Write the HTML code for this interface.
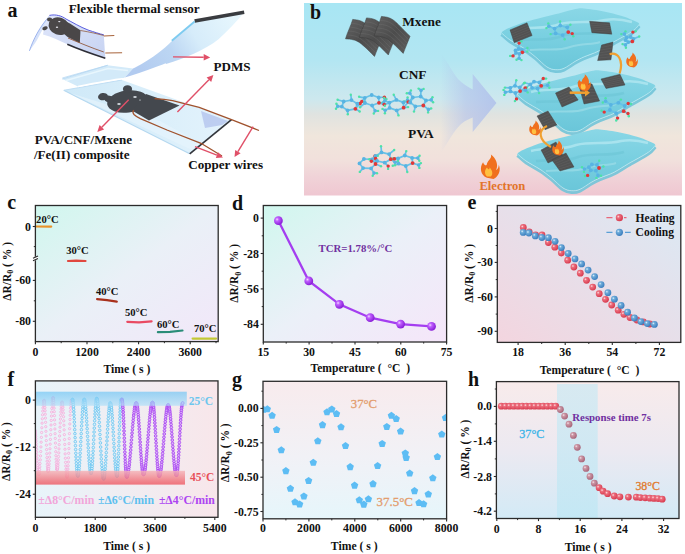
<!DOCTYPE html><html><head><meta charset="utf-8"><style>html,body{margin:0;padding:0;background:#fff;width:685px;height:554px;overflow:hidden}text{font-family:"Liberation Serif",serif}</style></head><body><svg width="685" height="554" viewBox="0 0 685 554" style="display:block;font-family:'Liberation Serif',serif"><defs><linearGradient id="gb" x1="0" y1="0" x2="0" y2="1"><stop offset="0" stop-color="#a8e6f4"/><stop offset="0.3" stop-color="#b3e6f2"/><stop offset="0.5" stop-color="#cde8ee"/><stop offset="0.58" stop-color="#e0e3e0"/><stop offset="0.69" stop-color="#f0e6dc"/><stop offset="0.82" stop-color="#f1e0dc"/><stop offset="0.9" stop-color="#f0d3d8"/><stop offset="1" stop-color="#efc7d1"/></linearGradient><linearGradient id="gc" x1="0" y1="0" x2="1" y2="1"><stop offset="0" stop-color="#d0f7ee"/><stop offset="0.5" stop-color="#eaf0f7"/><stop offset="1" stop-color="#f2e7f9"/></linearGradient><linearGradient id="gd" x1="0" y1="0" x2="1" y2="1"><stop offset="0" stop-color="#d0f7ee"/><stop offset="0.5" stop-color="#ebf0f8"/><stop offset="1" stop-color="#f5e6f9"/></linearGradient><linearGradient id="ge" x1="1" y1="0" x2="0" y2="1"><stop offset="0" stop-color="#dbe9f4"/><stop offset="1" stop-color="#f3d5df"/></linearGradient><linearGradient id="gf" x1="0" y1="0" x2="1" y2="0"><stop offset="0" stop-color="#e8f4fa"/><stop offset="1" stop-color="#f8e6ea"/></linearGradient><linearGradient id="gg" x1="0" y1="0" x2="0" y2="1"><stop offset="0" stop-color="#f8ebed"/><stop offset="0.55" stop-color="#f1f1f6"/><stop offset="1" stop-color="#e6f6fb"/></linearGradient><linearGradient id="gh" x1="0" y1="0" x2="0" y2="1"><stop offset="0" stop-color="#f8ebeb"/><stop offset="0.5" stop-color="#ece9f1"/><stop offset="1" stop-color="#d3eaf6"/></linearGradient><linearGradient id="bandb" x1="0" y1="0" x2="0" y2="1"><stop offset="0" stop-color="#70c5f4"/><stop offset="1" stop-color="#b2e0f8"/></linearGradient><linearGradient id="bandr" x1="0" y1="0" x2="0" y2="1"><stop offset="0" stop-color="#f5b3b8"/><stop offset="1" stop-color="#ee5862"/></linearGradient><linearGradient id="bandh" x1="0" y1="0" x2="0" y2="1"><stop offset="0" stop-color="#cde9f3"/><stop offset="1" stop-color="#bfe7f4"/></linearGradient><radialGradient id="sp_p" cx="0.35" cy="0.35" r="0.65"><stop offset="0" stop-color="#f4d8ff"/><stop offset="0.3" stop-color="#c060ff"/><stop offset="1" stop-color="#8a1fd8"/></radialGradient><radialGradient id="sp_r" cx="0.35" cy="0.35" r="0.65"><stop offset="0" stop-color="#fde0e3"/><stop offset="0.3" stop-color="#ec6e7d"/><stop offset="1" stop-color="#d83c50"/></radialGradient><radialGradient id="sp_b" cx="0.35" cy="0.35" r="0.65"><stop offset="0" stop-color="#e0f1fb"/><stop offset="0.3" stop-color="#6eacda"/><stop offset="1" stop-color="#3d80bf"/></radialGradient><radialGradient id="sp_m" cx="0.35" cy="0.35" r="0.65"><stop offset="0" stop-color="#f5e4ea"/><stop offset="0.3" stop-color="#cc96a4"/><stop offset="1" stop-color="#a9677b"/></radialGradient><polygon id="pent" points="0.00,-3.90 3.71,-1.21 2.29,3.16 -2.29,3.16 -3.71,-1.21"/><linearGradient id="arrowg" x1="0" y1="0" x2="1" y2="0"><stop offset="0" stop-color="rgba(175,190,235,0)"/><stop offset="0.45" stop-color="rgba(175,190,235,0.55)"/><stop offset="1" stop-color="rgba(175,192,235,0.85)"/></linearGradient><linearGradient id="mx" x1="0" y1="0" x2="1" y2="1"><stop offset="0" stop-color="#626262"/><stop offset="0.5" stop-color="#4c4c4c"/><stop offset="1" stop-color="#5e5e5e"/></linearGradient><linearGradient id="sheet" x1="0" y1="0" x2="0" y2="1"><stop offset="0" stop-color="#8ad7e6"/><stop offset="0.5" stop-color="#78cfe0"/><stop offset="1" stop-color="#6ac6d9"/></linearGradient><linearGradient id="pdms" x1="0" y1="0" x2="1" y2="1"><stop offset="0" stop-color="rgba(205,234,250,0.95)"/><stop offset="1" stop-color="rgba(190,222,246,0.95)"/></linearGradient><linearGradient id="strip" x1="0" y1="0" x2="1" y2="0"><stop offset="0" stop-color="#cfe9f8"/><stop offset="0.5" stop-color="#d9eefa"/><stop offset="1" stop-color="#e4f3fc"/></linearGradient><linearGradient id="flap" x1="0" y1="1" x2="1" y2="0"><stop offset="0" stop-color="#a9c6ee"/><stop offset="0.45" stop-color="#cfe6f8"/><stop offset="1" stop-color="#e2f5fd"/></linearGradient><linearGradient id="flex" x1="0" y1="0" x2="1" y2="1"><stop offset="0" stop-color="#dfe6fa"/><stop offset="1" stop-color="#c7d3f2"/></linearGradient><linearGradient id="flap2" x1="140" y1="72" x2="232" y2="14" gradientUnits="userSpaceOnUse"><stop offset="0" stop-color="#b2cbf0"/><stop offset="0.35" stop-color="#bcd6f3"/><stop offset="0.6" stop-color="#d6ecfa"/><stop offset="1" stop-color="#e6f6fd"/></linearGradient></defs><rect width="685" height="554" fill="#fff"/><rect x="35.4" y="205.5" width="182.79999999999998" height="136.10000000000002" fill="url(#gc)"/>
<polyline points="35.8,226.5 51.2,226.6" fill="none" stroke="#e8922a" stroke-width="2.2" stroke-linecap="round"/>
<text x="36.1" y="223.2" font-size="10.6" font-weight="bold" text-anchor="start" fill="#111" >20°C</text>
<polyline points="68,261.0 76,260.6 85.5,261.0" fill="none" stroke="#e0483f" stroke-width="2.2" stroke-linecap="round"/>
<text x="66.2" y="253.9" font-size="10.6" font-weight="bold" text-anchor="start" fill="#111" >30°C</text>
<polyline points="97.1,299.1 107,300.2 116.8,301.7" fill="none" stroke="#a8301c" stroke-width="2.2" stroke-linecap="round"/>
<text x="96.0" y="295.1" font-size="10.6" font-weight="bold" text-anchor="start" fill="#111" >40°C</text>
<polyline points="127.3,321.8 139,322.3 151.6,321.4" fill="none" stroke="#e94a62" stroke-width="2.2" stroke-linecap="round"/>
<text x="124.9" y="315.7" font-size="10.6" font-weight="bold" text-anchor="start" fill="#111" >50°C</text>
<polyline points="157.9,332.2 170,331.8 182.5,330.5" fill="none" stroke="#2a8c78" stroke-width="2.2" stroke-linecap="round"/>
<text x="156.9" y="328.4" font-size="10.6" font-weight="bold" text-anchor="start" fill="#111" >60°C</text>
<polyline points="192.6,338.6 216.1,338.6" fill="none" stroke="#c2c834" stroke-width="2.2" stroke-linecap="round"/>
<text x="194.0" y="332.0" font-size="10.6" font-weight="bold" text-anchor="start" fill="#111" >70°C</text>
<rect x="35.4" y="205.5" width="182.79999999999998" height="136.10000000000002" fill="none" stroke="#2b2b2b" stroke-width="1.3"/>
<line x1="35.4" y1="341.6" x2="35.4" y2="344.20000000000005" stroke="#2b2b2b" stroke-width="1.1"/>
<line x1="87.0" y1="341.6" x2="87.0" y2="344.20000000000005" stroke="#2b2b2b" stroke-width="1.1"/>
<line x1="138.6" y1="341.6" x2="138.6" y2="344.20000000000005" stroke="#2b2b2b" stroke-width="1.1"/>
<line x1="190.2" y1="341.6" x2="190.2" y2="344.20000000000005" stroke="#2b2b2b" stroke-width="1.1"/>
<line x1="61.2" y1="341.6" x2="61.2" y2="343.20000000000005" stroke="#2b2b2b" stroke-width="1.0"/>
<line x1="112.8" y1="341.6" x2="112.8" y2="343.20000000000005" stroke="#2b2b2b" stroke-width="1.0"/>
<line x1="164.4" y1="341.6" x2="164.4" y2="343.20000000000005" stroke="#2b2b2b" stroke-width="1.0"/>
<line x1="216.0" y1="341.6" x2="216.0" y2="343.20000000000005" stroke="#2b2b2b" stroke-width="1.0"/>
<text x="35.4" y="355.6" font-size="11.8" font-weight="bold" text-anchor="middle" fill="#111" >0</text>
<text x="87.0" y="355.6" font-size="11.8" font-weight="bold" text-anchor="middle" fill="#111" >1200</text>
<text x="138.6" y="355.6" font-size="11.8" font-weight="bold" text-anchor="middle" fill="#111" >2400</text>
<text x="190.2" y="355.6" font-size="11.8" font-weight="bold" text-anchor="middle" fill="#111" >3600</text>
<line x1="32.8" y1="226.5" x2="35.4" y2="226.5" stroke="#2b2b2b" stroke-width="1.1"/>
<line x1="32.8" y1="280.4" x2="35.4" y2="280.4" stroke="#2b2b2b" stroke-width="1.1"/>
<line x1="32.8" y1="321.3" x2="35.4" y2="321.3" stroke="#2b2b2b" stroke-width="1.1"/>
<line x1="33.8" y1="246.6" x2="35.4" y2="246.6" stroke="#2b2b2b" stroke-width="1.0"/>
<line x1="33.8" y1="300.8" x2="35.4" y2="300.8" stroke="#2b2b2b" stroke-width="1.0"/>
<text x="31.0" y="230.5" font-size="11.8" font-weight="bold" text-anchor="end" fill="#111" >0</text>
<text x="31.0" y="284.4" font-size="11.8" font-weight="bold" text-anchor="end" fill="#111" >-60</text>
<text x="31.0" y="325.3" font-size="11.8" font-weight="bold" text-anchor="end" fill="#111" >-80</text>
<rect x="32.5" y="257" width="6" height="3.2" fill="#fff" transform="rotate(-25 35.4 258.8)"/>
<path d="M33 258.2 L38 255.9 M33 260.8 L38 258.5" stroke="#2b2b2b" stroke-width="1.1"/>
<text transform="translate(6.6,271.4) rotate(-90)" x="0" y="3.9" font-size="11.5" font-weight="bold" text-anchor="middle" fill="#111">ΔR/R<tspan font-size="8.0" dy="2.5">0</tspan><tspan dy="-2.5"> ( % )</tspan></text>
<text x="126.9" y="373.4" font-size="11.7" font-weight="bold" text-anchor="middle" fill="#111" >Time ( s )</text>
<text x="7.2" y="208.6" font-size="20" font-weight="bold" text-anchor="start" fill="#111" >c</text>
<rect x="263.3" y="205.5" width="183.3" height="136.5" fill="url(#gd)"/>
<polyline points="278.4,220.7 308.8,280.9 339.4,304.3 370.2,317.7 400.6,324.1 431.5,326.4" fill="none" stroke="#a43ef0" stroke-width="2.3"/>
<circle cx="278.4" cy="220.7" r="4.4" fill="url(#sp_p)"/>
<circle cx="308.8" cy="280.9" r="4.4" fill="url(#sp_p)"/>
<circle cx="339.4" cy="304.3" r="4.4" fill="url(#sp_p)"/>
<circle cx="370.2" cy="317.7" r="4.4" fill="url(#sp_p)"/>
<circle cx="400.6" cy="324.1" r="4.4" fill="url(#sp_p)"/>
<circle cx="431.5" cy="326.4" r="4.4" fill="url(#sp_p)"/>
<text x="318.5" y="252.1" font-size="10.8" font-weight="bold" text-anchor="start" fill="#7030a0" >TCR=1.78%/°C</text>
<rect x="263.3" y="205.5" width="183.3" height="136.5" fill="none" stroke="#2b2b2b" stroke-width="1.3"/>
<line x1="263.3" y1="342.0" x2="263.3" y2="344.6" stroke="#2b2b2b" stroke-width="1.1"/>
<line x1="309.1" y1="342.0" x2="309.1" y2="344.6" stroke="#2b2b2b" stroke-width="1.1"/>
<line x1="355.0" y1="342.0" x2="355.0" y2="344.6" stroke="#2b2b2b" stroke-width="1.1"/>
<line x1="400.8" y1="342.0" x2="400.8" y2="344.6" stroke="#2b2b2b" stroke-width="1.1"/>
<line x1="446.6" y1="342.0" x2="446.6" y2="344.6" stroke="#2b2b2b" stroke-width="1.1"/>
<line x1="286.2" y1="342.0" x2="286.2" y2="343.6" stroke="#2b2b2b" stroke-width="1.0"/>
<line x1="332.0" y1="342.0" x2="332.0" y2="343.6" stroke="#2b2b2b" stroke-width="1.0"/>
<line x1="377.9" y1="342.0" x2="377.9" y2="343.6" stroke="#2b2b2b" stroke-width="1.0"/>
<line x1="423.7" y1="342.0" x2="423.7" y2="343.6" stroke="#2b2b2b" stroke-width="1.0"/>
<text x="263.3" y="356.0" font-size="11.8" font-weight="bold" text-anchor="middle" fill="#111" >15</text>
<text x="309.1" y="356.0" font-size="11.8" font-weight="bold" text-anchor="middle" fill="#111" >30</text>
<text x="355.0" y="356.0" font-size="11.8" font-weight="bold" text-anchor="middle" fill="#111" >45</text>
<text x="400.8" y="356.0" font-size="11.8" font-weight="bold" text-anchor="middle" fill="#111" >60</text>
<text x="446.6" y="356.0" font-size="11.8" font-weight="bold" text-anchor="middle" fill="#111" >75</text>
<line x1="260.7" y1="218.1" x2="263.3" y2="218.1" stroke="#2b2b2b" stroke-width="1.1"/>
<line x1="260.7" y1="253.5" x2="263.3" y2="253.5" stroke="#2b2b2b" stroke-width="1.1"/>
<line x1="260.7" y1="288.9" x2="263.3" y2="288.9" stroke="#2b2b2b" stroke-width="1.1"/>
<line x1="260.7" y1="324.3" x2="263.3" y2="324.3" stroke="#2b2b2b" stroke-width="1.1"/>
<line x1="261.7" y1="235.8" x2="263.3" y2="235.8" stroke="#2b2b2b" stroke-width="1.0"/>
<line x1="261.7" y1="271.2" x2="263.3" y2="271.2" stroke="#2b2b2b" stroke-width="1.0"/>
<line x1="261.7" y1="306.6" x2="263.3" y2="306.6" stroke="#2b2b2b" stroke-width="1.0"/>
<text x="258.9" y="222.1" font-size="11.8" font-weight="bold" text-anchor="end" fill="#111" >0</text>
<text x="258.9" y="257.5" font-size="11.8" font-weight="bold" text-anchor="end" fill="#111" >-28</text>
<text x="258.9" y="292.9" font-size="11.8" font-weight="bold" text-anchor="end" fill="#111" >-56</text>
<text x="258.9" y="328.3" font-size="11.8" font-weight="bold" text-anchor="end" fill="#111" >-84</text>
<text transform="translate(234.3,273.4) rotate(-90)" x="0" y="3.9" font-size="11.5" font-weight="bold" text-anchor="middle" fill="#111">ΔR/R<tspan font-size="8.0" dy="2.5">0</tspan><tspan dy="-2.5"> ( % )</tspan></text>
<text x="360.3" y="371.9" font-size="11.6" font-weight="bold" text-anchor="middle" fill="#111" >Temperature (  °C  )</text>
<text x="232.0" y="210.2" font-size="20" font-weight="bold" text-anchor="start" fill="#111" >d</text>
<rect x="497.3" y="205.5" width="183.49999999999994" height="136.89999999999998" fill="url(#ge)"/>
<circle cx="523.3" cy="227.5" r="3.4" fill="url(#sp_r)"/>
<circle cx="529.2" cy="232.0" r="3.4" fill="url(#sp_r)"/>
<circle cx="535.6" cy="234.8" r="3.4" fill="url(#sp_r)"/>
<circle cx="542" cy="235.0" r="3.4" fill="url(#sp_r)"/>
<circle cx="548.4" cy="242.5" r="3.4" fill="url(#sp_r)"/>
<circle cx="554.8" cy="247.2" r="3.4" fill="url(#sp_r)"/>
<circle cx="561.3" cy="253.0" r="3.4" fill="url(#sp_r)"/>
<circle cx="567.7" cy="260.2" r="3.4" fill="url(#sp_r)"/>
<circle cx="573.9" cy="267" r="3.4" fill="url(#sp_r)"/>
<circle cx="580.3" cy="273.2" r="3.4" fill="url(#sp_r)"/>
<circle cx="586.5" cy="280.3" r="3.4" fill="url(#sp_r)"/>
<circle cx="592.7" cy="287.1" r="3.4" fill="url(#sp_r)"/>
<circle cx="599.2" cy="293.7" r="3.4" fill="url(#sp_r)"/>
<circle cx="605.5" cy="299.3" r="3.4" fill="url(#sp_r)"/>
<circle cx="611.7" cy="305" r="3.4" fill="url(#sp_r)"/>
<circle cx="618.2" cy="310.2" r="3.4" fill="url(#sp_r)"/>
<circle cx="623.9" cy="314.3" r="3.4" fill="url(#sp_r)"/>
<circle cx="630" cy="317.5" r="3.4" fill="url(#sp_r)"/>
<circle cx="636.9" cy="320" r="3.4" fill="url(#sp_r)"/>
<circle cx="643.4" cy="321.9" r="3.4" fill="url(#sp_r)"/>
<circle cx="649.8" cy="324" r="3.4" fill="url(#sp_r)"/>
<circle cx="523.2" cy="232.4" r="3.4" fill="url(#sp_b)"/>
<circle cx="528.9" cy="233" r="3.4" fill="url(#sp_b)"/>
<circle cx="535.3" cy="235.9" r="3.4" fill="url(#sp_b)"/>
<circle cx="541.9" cy="237.5" r="3.4" fill="url(#sp_b)"/>
<circle cx="548.4" cy="237.7" r="3.4" fill="url(#sp_b)"/>
<circle cx="555.1" cy="241.3" r="3.4" fill="url(#sp_b)"/>
<circle cx="561.4" cy="247.6" r="3.4" fill="url(#sp_b)"/>
<circle cx="568.2" cy="253.5" r="3.4" fill="url(#sp_b)"/>
<circle cx="575" cy="258.9" r="3.4" fill="url(#sp_b)"/>
<circle cx="581.6" cy="263.9" r="3.4" fill="url(#sp_b)"/>
<circle cx="588.1" cy="270.1" r="3.4" fill="url(#sp_b)"/>
<circle cx="594.6" cy="276.6" r="3.4" fill="url(#sp_b)"/>
<circle cx="601.1" cy="284.6" r="3.4" fill="url(#sp_b)"/>
<circle cx="607.9" cy="292.7" r="3.4" fill="url(#sp_b)"/>
<circle cx="614.4" cy="299.2" r="3.4" fill="url(#sp_b)"/>
<circle cx="621.1" cy="305.4" r="3.4" fill="url(#sp_b)"/>
<circle cx="627.6" cy="312.2" r="3.4" fill="url(#sp_b)"/>
<circle cx="634.4" cy="318" r="3.4" fill="url(#sp_b)"/>
<circle cx="640.9" cy="321.6" r="3.4" fill="url(#sp_b)"/>
<circle cx="647.4" cy="323.6" r="3.4" fill="url(#sp_b)"/>
<circle cx="654.4" cy="324.4" r="3.4" fill="url(#sp_b)"/>
<path d="M606.4 217.7 H612.5 M624 217.7 H626.5" stroke="#e8677a" stroke-width="1.2"/>
<circle cx="619.4" cy="217.7" r="3.6" fill="url(#sp_r)"/>
<path d="M606.4 232.3 H612.5 M625 232.3 H630.7" stroke="#5a9fd6" stroke-width="1.2"/>
<circle cx="619.4" cy="232.3" r="3.6" fill="url(#sp_b)"/>
<text x="635.6" y="221.7" font-size="11.5" font-weight="bold" text-anchor="start" fill="#111" >Heating</text>
<text x="635.6" y="236.4" font-size="11.5" font-weight="bold" text-anchor="start" fill="#111" >Cooling</text>
<rect x="497.3" y="205.5" width="183.49999999999994" height="136.89999999999998" fill="none" stroke="#2b2b2b" stroke-width="1.3"/>
<line x1="518.1" y1="342.4" x2="518.1" y2="345.0" stroke="#2b2b2b" stroke-width="1.1"/>
<line x1="565.2" y1="342.4" x2="565.2" y2="345.0" stroke="#2b2b2b" stroke-width="1.1"/>
<line x1="612.3" y1="342.4" x2="612.3" y2="345.0" stroke="#2b2b2b" stroke-width="1.1"/>
<line x1="659.4" y1="342.4" x2="659.4" y2="345.0" stroke="#2b2b2b" stroke-width="1.1"/>
<line x1="541.7" y1="342.4" x2="541.7" y2="344.0" stroke="#2b2b2b" stroke-width="1.0"/>
<line x1="588.8" y1="342.4" x2="588.8" y2="344.0" stroke="#2b2b2b" stroke-width="1.0"/>
<line x1="635.9" y1="342.4" x2="635.9" y2="344.0" stroke="#2b2b2b" stroke-width="1.0"/>
<text x="518.1" y="356.2" font-size="11.8" font-weight="bold" text-anchor="middle" fill="#111" >18</text>
<text x="565.2" y="356.2" font-size="11.8" font-weight="bold" text-anchor="middle" fill="#111" >36</text>
<text x="612.3" y="356.2" font-size="11.8" font-weight="bold" text-anchor="middle" fill="#111" >54</text>
<text x="659.4" y="356.2" font-size="11.8" font-weight="bold" text-anchor="middle" fill="#111" >72</text>
<line x1="494.7" y1="228.5" x2="497.3" y2="228.5" stroke="#2b2b2b" stroke-width="1.1"/>
<line x1="494.7" y1="262.4" x2="497.3" y2="262.4" stroke="#2b2b2b" stroke-width="1.1"/>
<line x1="494.7" y1="296.9" x2="497.3" y2="296.9" stroke="#2b2b2b" stroke-width="1.1"/>
<line x1="494.7" y1="331.3" x2="497.3" y2="331.3" stroke="#2b2b2b" stroke-width="1.1"/>
<line x1="495.7" y1="211.4" x2="497.3" y2="211.4" stroke="#2b2b2b" stroke-width="1.0"/>
<line x1="495.7" y1="245.5" x2="497.3" y2="245.5" stroke="#2b2b2b" stroke-width="1.0"/>
<line x1="495.7" y1="279.6" x2="497.3" y2="279.6" stroke="#2b2b2b" stroke-width="1.0"/>
<line x1="495.7" y1="314.1" x2="497.3" y2="314.1" stroke="#2b2b2b" stroke-width="1.0"/>
<text x="492.9" y="232.5" font-size="11.8" font-weight="bold" text-anchor="end" fill="#111" >0</text>
<text x="492.9" y="266.4" font-size="11.8" font-weight="bold" text-anchor="end" fill="#111" >-30</text>
<text x="492.9" y="300.9" font-size="11.8" font-weight="bold" text-anchor="end" fill="#111" >-60</text>
<text x="492.9" y="335.3" font-size="11.8" font-weight="bold" text-anchor="end" fill="#111" >-90</text>
<text transform="translate(468.8,273.4) rotate(-90)" x="0" y="3.9" font-size="11.5" font-weight="bold" text-anchor="middle" fill="#111">ΔR/R<tspan font-size="8.0" dy="2.5">0</tspan><tspan dy="-2.5"> ( % )</tspan></text>
<text x="589.5" y="374.2" font-size="11.6" font-weight="bold" text-anchor="middle" fill="#111" >Temperature (  °C  )</text>
<text x="467.5" y="209.0" font-size="20" font-weight="bold" text-anchor="start" fill="#111" >e</text>
<rect x="35.4" y="380.9" width="182.6" height="136.39999999999998" fill="url(#gf)"/>
<clipPath id="cf"><rect x="35.4" y="380.9" width="182.6" height="136.39999999999998"/></clipPath>
<g clip-path="url(#cf)" fill="#fbe6f4" stroke="#f0a2d6" stroke-width="0.65">
<circle cx="34.60" cy="430.00" r="1.15"/>
<circle cx="34.77" cy="430.19" r="1.15"/>
<circle cx="34.94" cy="430.76" r="1.15"/>
<circle cx="35.11" cy="431.69" r="1.15"/>
<circle cx="35.28" cy="432.97" r="1.15"/>
<circle cx="35.45" cy="434.59" r="1.15"/>
<circle cx="35.62" cy="436.50" r="1.15"/>
<circle cx="35.80" cy="438.69" r="1.15"/>
<circle cx="35.97" cy="441.10" r="1.15"/>
<circle cx="36.14" cy="443.70" r="1.15"/>
<circle cx="36.31" cy="446.45" r="1.15"/>
<circle cx="36.48" cy="449.30" r="1.15"/>
<circle cx="36.65" cy="452.20" r="1.15"/>
<circle cx="36.82" cy="455.10" r="1.15"/>
<circle cx="36.99" cy="457.95" r="1.15"/>
<circle cx="37.16" cy="460.70" r="1.15"/>
<circle cx="37.33" cy="463.30" r="1.15"/>
<circle cx="37.50" cy="465.71" r="1.15"/>
<circle cx="37.68" cy="467.90" r="1.15"/>
<circle cx="37.85" cy="469.81" r="1.15"/>
<circle cx="38.02" cy="471.43" r="1.15"/>
<circle cx="38.19" cy="472.71" r="1.15"/>
<circle cx="38.36" cy="473.64" r="1.15"/>
<circle cx="38.53" cy="474.21" r="1.15"/>
<circle cx="38.70" cy="474.40" r="1.15"/>
<circle cx="38.93" cy="474.08" r="1.15"/>
<circle cx="39.15" cy="473.14" r="1.15"/>
<circle cx="39.38" cy="471.58" r="1.15"/>
<circle cx="39.60" cy="469.44" r="1.15"/>
<circle cx="39.83" cy="466.74" r="1.15"/>
<circle cx="40.05" cy="463.55" r="1.15"/>
<circle cx="40.28" cy="459.90" r="1.15"/>
<circle cx="40.50" cy="455.88" r="1.15"/>
<circle cx="40.73" cy="451.53" r="1.15"/>
<circle cx="40.95" cy="446.94" r="1.15"/>
<circle cx="41.18" cy="442.19" r="1.15"/>
<circle cx="41.40" cy="437.35" r="1.15"/>
<circle cx="41.62" cy="432.51" r="1.15"/>
<circle cx="41.85" cy="427.76" r="1.15"/>
<circle cx="42.08" cy="423.17" r="1.15"/>
<circle cx="42.30" cy="418.82" r="1.15"/>
<circle cx="42.53" cy="414.80" r="1.15"/>
<circle cx="42.75" cy="411.15" r="1.15"/>
<circle cx="42.98" cy="407.96" r="1.15"/>
<circle cx="43.20" cy="405.26" r="1.15"/>
<circle cx="43.43" cy="403.12" r="1.15"/>
<circle cx="43.65" cy="401.56" r="1.15"/>
<circle cx="43.88" cy="400.62" r="1.15"/>
<circle cx="44.10" cy="400.30" r="1.15"/>
<circle cx="44.27" cy="400.60" r="1.15"/>
<circle cx="44.43" cy="401.51" r="1.15"/>
<circle cx="44.60" cy="403.01" r="1.15"/>
<circle cx="44.77" cy="405.08" r="1.15"/>
<circle cx="44.93" cy="407.67" r="1.15"/>
<circle cx="45.10" cy="410.74" r="1.15"/>
<circle cx="45.27" cy="414.25" r="1.15"/>
<circle cx="45.43" cy="418.12" r="1.15"/>
<circle cx="45.60" cy="422.31" r="1.15"/>
<circle cx="45.77" cy="426.72" r="1.15"/>
<circle cx="45.93" cy="431.30" r="1.15"/>
<circle cx="46.10" cy="435.95" r="1.15"/>
<circle cx="46.27" cy="440.60" r="1.15"/>
<circle cx="46.43" cy="445.18" r="1.15"/>
<circle cx="46.60" cy="449.59" r="1.15"/>
<circle cx="46.77" cy="453.78" r="1.15"/>
<circle cx="46.93" cy="457.65" r="1.15"/>
<circle cx="47.10" cy="461.16" r="1.15"/>
<circle cx="47.27" cy="464.23" r="1.15"/>
<circle cx="47.43" cy="466.82" r="1.15"/>
<circle cx="47.60" cy="468.89" r="1.15"/>
<circle cx="47.77" cy="470.39" r="1.15"/>
<circle cx="47.93" cy="471.30" r="1.15"/>
<circle cx="48.10" cy="471.60" r="1.15"/>
<circle cx="48.31" cy="471.28" r="1.15"/>
<circle cx="48.52" cy="470.34" r="1.15"/>
<circle cx="48.73" cy="468.78" r="1.15"/>
<circle cx="48.93" cy="466.64" r="1.15"/>
<circle cx="49.14" cy="463.95" r="1.15"/>
<circle cx="49.35" cy="460.76" r="1.15"/>
<circle cx="49.56" cy="457.12" r="1.15"/>
<circle cx="49.77" cy="453.10" r="1.15"/>
<circle cx="49.98" cy="448.76" r="1.15"/>
<circle cx="50.18" cy="444.18" r="1.15"/>
<circle cx="50.39" cy="439.43" r="1.15"/>
<circle cx="50.60" cy="434.60" r="1.15"/>
<circle cx="50.81" cy="429.77" r="1.15"/>
<circle cx="51.02" cy="425.02" r="1.15"/>
<circle cx="51.23" cy="420.44" r="1.15"/>
<circle cx="51.43" cy="416.10" r="1.15"/>
<circle cx="51.64" cy="412.08" r="1.15"/>
<circle cx="51.85" cy="408.44" r="1.15"/>
<circle cx="52.06" cy="405.25" r="1.15"/>
<circle cx="52.27" cy="402.56" r="1.15"/>
<circle cx="52.48" cy="400.42" r="1.15"/>
<circle cx="52.68" cy="398.86" r="1.15"/>
<circle cx="52.89" cy="397.92" r="1.15"/>
<circle cx="53.10" cy="397.60" r="1.15"/>
<circle cx="53.27" cy="397.91" r="1.15"/>
<circle cx="53.43" cy="398.83" r="1.15"/>
<circle cx="53.60" cy="400.35" r="1.15"/>
<circle cx="53.77" cy="402.44" r="1.15"/>
<circle cx="53.93" cy="405.06" r="1.15"/>
<circle cx="54.10" cy="408.17" r="1.15"/>
<circle cx="54.27" cy="411.72" r="1.15"/>
<circle cx="54.43" cy="415.65" r="1.15"/>
<circle cx="54.60" cy="419.89" r="1.15"/>
<circle cx="54.77" cy="424.36" r="1.15"/>
<circle cx="54.93" cy="428.99" r="1.15"/>
<circle cx="55.10" cy="433.70" r="1.15"/>
<circle cx="55.27" cy="438.41" r="1.15"/>
<circle cx="55.43" cy="443.04" r="1.15"/>
<circle cx="55.60" cy="447.51" r="1.15"/>
<circle cx="55.77" cy="451.75" r="1.15"/>
<circle cx="55.93" cy="455.68" r="1.15"/>
<circle cx="56.10" cy="459.23" r="1.15"/>
<circle cx="56.27" cy="462.34" r="1.15"/>
<circle cx="56.43" cy="464.96" r="1.15"/>
<circle cx="56.60" cy="467.05" r="1.15"/>
<circle cx="56.77" cy="468.57" r="1.15"/>
<circle cx="56.93" cy="469.49" r="1.15"/>
<circle cx="57.10" cy="469.80" r="1.15"/>
<circle cx="57.31" cy="469.51" r="1.15"/>
<circle cx="57.52" cy="468.65" r="1.15"/>
<circle cx="57.73" cy="467.22" r="1.15"/>
<circle cx="57.93" cy="465.26" r="1.15"/>
<circle cx="58.14" cy="462.81" r="1.15"/>
<circle cx="58.35" cy="459.89" r="1.15"/>
<circle cx="58.56" cy="456.56" r="1.15"/>
<circle cx="58.77" cy="452.88" r="1.15"/>
<circle cx="58.98" cy="448.90" r="1.15"/>
<circle cx="59.18" cy="444.71" r="1.15"/>
<circle cx="59.39" cy="440.37" r="1.15"/>
<circle cx="59.60" cy="435.95" r="1.15"/>
<circle cx="59.81" cy="431.53" r="1.15"/>
<circle cx="60.02" cy="427.19" r="1.15"/>
<circle cx="60.23" cy="423.00" r="1.15"/>
<circle cx="60.43" cy="419.03" r="1.15"/>
<circle cx="60.64" cy="415.34" r="1.15"/>
<circle cx="60.85" cy="412.01" r="1.15"/>
<circle cx="61.06" cy="409.09" r="1.15"/>
<circle cx="61.27" cy="406.64" r="1.15"/>
<circle cx="61.48" cy="404.68" r="1.15"/>
<circle cx="61.68" cy="403.25" r="1.15"/>
<circle cx="61.89" cy="402.39" r="1.15"/>
<circle cx="62.10" cy="402.10" r="1.15"/>
<circle cx="62.30" cy="402.42" r="1.15"/>
<circle cx="62.51" cy="403.38" r="1.15"/>
<circle cx="62.71" cy="404.95" r="1.15"/>
<circle cx="62.92" cy="407.12" r="1.15"/>
<circle cx="63.12" cy="409.84" r="1.15"/>
<circle cx="63.33" cy="413.07" r="1.15"/>
<circle cx="63.53" cy="416.75" r="1.15"/>
<circle cx="63.73" cy="420.82" r="1.15"/>
<circle cx="63.94" cy="425.22" r="1.15"/>
<circle cx="64.14" cy="429.86" r="1.15"/>
<circle cx="64.35" cy="434.66" r="1.15"/>
<circle cx="64.55" cy="439.55" r="1.15"/>
<circle cx="64.75" cy="444.44" r="1.15"/>
<circle cx="64.96" cy="449.24" r="1.15"/>
<circle cx="65.16" cy="453.88" r="1.15"/>
<circle cx="65.37" cy="458.27" r="1.15"/>
<circle cx="65.57" cy="462.35" r="1.15"/>
<circle cx="65.78" cy="466.03" r="1.15"/>
<circle cx="65.98" cy="469.26" r="1.15"/>
<circle cx="66.18" cy="471.98" r="1.15"/>
<circle cx="66.39" cy="474.15" r="1.15"/>
<circle cx="66.59" cy="475.72" r="1.15"/>
<circle cx="66.80" cy="476.68" r="1.15"/>
<circle cx="67.00" cy="477.00" r="1.15"/>
<circle cx="67.19" cy="476.67" r="1.15"/>
<circle cx="67.38" cy="475.69" r="1.15"/>
<circle cx="67.56" cy="474.08" r="1.15"/>
<circle cx="67.75" cy="471.86" r="1.15"/>
<circle cx="67.94" cy="469.08" r="1.15"/>
<circle cx="68.12" cy="465.77" r="1.15"/>
<circle cx="68.31" cy="462.00" r="1.15"/>
<circle cx="68.50" cy="457.82" r="1.15"/>
<circle cx="68.69" cy="453.33" r="1.15"/>
<circle cx="68.88" cy="448.58" r="1.15"/>
<circle cx="69.06" cy="443.66" r="1.15"/>
<circle cx="69.25" cy="438.65" r="1.15"/>
<circle cx="69.44" cy="433.64" r="1.15"/>
<circle cx="69.62" cy="428.72" r="1.15"/>
<circle cx="69.81" cy="423.97" r="1.15"/>
<circle cx="70.00" cy="419.48" r="1.15"/>
<circle cx="70.19" cy="415.30" r="1.15"/>
<circle cx="70.38" cy="411.53" r="1.15"/>
<circle cx="70.56" cy="408.22" r="1.15"/>
<circle cx="70.75" cy="405.44" r="1.15"/>
<circle cx="70.94" cy="403.22" r="1.15"/>
<circle cx="71.12" cy="401.61" r="1.15"/>
<circle cx="71.31" cy="400.63" r="1.15"/>
<circle cx="71.50" cy="400.30" r="1.15"/>
</g>
<g clip-path="url(#cf)" fill="#d8f0fb" stroke="#5ec0ef" stroke-width="0.75">
<circle cx="72.40" cy="399.40" r="1.3"/>
<circle cx="72.58" cy="399.61" r="1.3"/>
<circle cx="72.76" cy="400.24" r="1.3"/>
<circle cx="72.94" cy="401.27" r="1.3"/>
<circle cx="73.12" cy="402.71" r="1.3"/>
<circle cx="73.30" cy="404.53" r="1.3"/>
<circle cx="73.48" cy="406.71" r="1.3"/>
<circle cx="73.66" cy="409.24" r="1.3"/>
<circle cx="73.84" cy="412.07" r="1.3"/>
<circle cx="74.02" cy="415.19" r="1.3"/>
<circle cx="74.20" cy="418.55" r="1.3"/>
<circle cx="74.38" cy="422.12" r="1.3"/>
<circle cx="74.56" cy="425.86" r="1.3"/>
<circle cx="74.74" cy="429.74" r="1.3"/>
<circle cx="74.92" cy="433.70" r="1.3"/>
<circle cx="75.10" cy="437.70" r="1.3"/>
<circle cx="75.28" cy="441.70" r="1.3"/>
<circle cx="75.46" cy="445.66" r="1.3"/>
<circle cx="75.64" cy="449.54" r="1.3"/>
<circle cx="75.82" cy="453.28" r="1.3"/>
<circle cx="76.00" cy="456.85" r="1.3"/>
<circle cx="76.18" cy="460.21" r="1.3"/>
<circle cx="76.36" cy="463.33" r="1.3"/>
<circle cx="76.54" cy="466.16" r="1.3"/>
<circle cx="76.72" cy="468.69" r="1.3"/>
<circle cx="76.90" cy="470.87" r="1.3"/>
<circle cx="77.08" cy="472.69" r="1.3"/>
<circle cx="77.26" cy="474.13" r="1.3"/>
<circle cx="77.44" cy="475.16" r="1.3"/>
<circle cx="77.62" cy="475.79" r="1.3"/>
<circle cx="77.80" cy="476.00" r="1.3"/>
<circle cx="78.01" cy="475.79" r="1.3"/>
<circle cx="78.23" cy="475.16" r="1.3"/>
<circle cx="78.44" cy="474.13" r="1.3"/>
<circle cx="78.65" cy="472.69" r="1.3"/>
<circle cx="78.87" cy="470.87" r="1.3"/>
<circle cx="79.08" cy="468.69" r="1.3"/>
<circle cx="79.29" cy="466.16" r="1.3"/>
<circle cx="79.51" cy="463.33" r="1.3"/>
<circle cx="79.72" cy="460.21" r="1.3"/>
<circle cx="79.93" cy="456.85" r="1.3"/>
<circle cx="80.15" cy="453.28" r="1.3"/>
<circle cx="80.36" cy="449.54" r="1.3"/>
<circle cx="80.57" cy="445.66" r="1.3"/>
<circle cx="80.79" cy="441.70" r="1.3"/>
<circle cx="81.00" cy="437.70" r="1.3"/>
<circle cx="81.21" cy="433.70" r="1.3"/>
<circle cx="81.43" cy="429.74" r="1.3"/>
<circle cx="81.64" cy="425.86" r="1.3"/>
<circle cx="81.85" cy="422.12" r="1.3"/>
<circle cx="82.07" cy="418.55" r="1.3"/>
<circle cx="82.28" cy="415.19" r="1.3"/>
<circle cx="82.49" cy="412.07" r="1.3"/>
<circle cx="82.71" cy="409.24" r="1.3"/>
<circle cx="82.92" cy="406.71" r="1.3"/>
<circle cx="83.13" cy="404.53" r="1.3"/>
<circle cx="83.35" cy="402.71" r="1.3"/>
<circle cx="83.56" cy="401.27" r="1.3"/>
<circle cx="83.77" cy="400.24" r="1.3"/>
<circle cx="83.99" cy="399.61" r="1.3"/>
<circle cx="84.20" cy="399.40" r="1.3"/>
<circle cx="84.43" cy="399.60" r="1.3"/>
<circle cx="84.65" cy="400.21" r="1.3"/>
<circle cx="84.88" cy="401.21" r="1.3"/>
<circle cx="85.11" cy="402.60" r="1.3"/>
<circle cx="85.33" cy="404.36" r="1.3"/>
<circle cx="85.56" cy="406.47" r="1.3"/>
<circle cx="85.79" cy="408.90" r="1.3"/>
<circle cx="86.01" cy="411.64" r="1.3"/>
<circle cx="86.24" cy="414.65" r="1.3"/>
<circle cx="86.47" cy="417.90" r="1.3"/>
<circle cx="86.69" cy="421.35" r="1.3"/>
<circle cx="86.92" cy="424.97" r="1.3"/>
<circle cx="87.15" cy="428.71" r="1.3"/>
<circle cx="87.37" cy="432.53" r="1.3"/>
<circle cx="87.60" cy="436.40" r="1.3"/>
<circle cx="87.83" cy="440.27" r="1.3"/>
<circle cx="88.05" cy="444.09" r="1.3"/>
<circle cx="88.28" cy="447.83" r="1.3"/>
<circle cx="88.51" cy="451.45" r="1.3"/>
<circle cx="88.73" cy="454.90" r="1.3"/>
<circle cx="88.96" cy="458.15" r="1.3"/>
<circle cx="89.19" cy="461.16" r="1.3"/>
<circle cx="89.41" cy="463.90" r="1.3"/>
<circle cx="89.64" cy="466.33" r="1.3"/>
<circle cx="89.87" cy="468.44" r="1.3"/>
<circle cx="90.09" cy="470.20" r="1.3"/>
<circle cx="90.32" cy="471.59" r="1.3"/>
<circle cx="90.55" cy="472.59" r="1.3"/>
<circle cx="90.77" cy="473.20" r="1.3"/>
<circle cx="91.00" cy="473.40" r="1.3"/>
<circle cx="91.19" cy="473.19" r="1.3"/>
<circle cx="91.39" cy="472.58" r="1.3"/>
<circle cx="91.58" cy="471.57" r="1.3"/>
<circle cx="91.77" cy="470.16" r="1.3"/>
<circle cx="91.97" cy="468.38" r="1.3"/>
<circle cx="92.16" cy="466.25" r="1.3"/>
<circle cx="92.35" cy="463.78" r="1.3"/>
<circle cx="92.55" cy="461.01" r="1.3"/>
<circle cx="92.74" cy="457.96" r="1.3"/>
<circle cx="92.93" cy="454.68" r="1.3"/>
<circle cx="93.13" cy="451.18" r="1.3"/>
<circle cx="93.32" cy="447.52" r="1.3"/>
<circle cx="93.51" cy="443.74" r="1.3"/>
<circle cx="93.71" cy="439.86" r="1.3"/>
<circle cx="93.90" cy="435.95" r="1.3"/>
<circle cx="94.09" cy="432.04" r="1.3"/>
<circle cx="94.29" cy="428.16" r="1.3"/>
<circle cx="94.48" cy="424.38" r="1.3"/>
<circle cx="94.67" cy="420.72" r="1.3"/>
<circle cx="94.87" cy="417.23" r="1.3"/>
<circle cx="95.06" cy="413.94" r="1.3"/>
<circle cx="95.25" cy="410.89" r="1.3"/>
<circle cx="95.45" cy="408.12" r="1.3"/>
<circle cx="95.64" cy="405.65" r="1.3"/>
<circle cx="95.83" cy="403.52" r="1.3"/>
<circle cx="96.03" cy="401.74" r="1.3"/>
<circle cx="96.22" cy="400.33" r="1.3"/>
<circle cx="96.41" cy="399.32" r="1.3"/>
<circle cx="96.61" cy="398.71" r="1.3"/>
<circle cx="96.80" cy="398.50" r="1.3"/>
<circle cx="97.03" cy="398.72" r="1.3"/>
<circle cx="97.25" cy="399.38" r="1.3"/>
<circle cx="97.48" cy="400.47" r="1.3"/>
<circle cx="97.71" cy="401.98" r="1.3"/>
<circle cx="97.93" cy="403.89" r="1.3"/>
<circle cx="98.16" cy="406.18" r="1.3"/>
<circle cx="98.39" cy="408.83" r="1.3"/>
<circle cx="98.61" cy="411.80" r="1.3"/>
<circle cx="98.84" cy="415.07" r="1.3"/>
<circle cx="99.07" cy="418.60" r="1.3"/>
<circle cx="99.29" cy="422.35" r="1.3"/>
<circle cx="99.52" cy="426.28" r="1.3"/>
<circle cx="99.75" cy="430.34" r="1.3"/>
<circle cx="99.97" cy="434.50" r="1.3"/>
<circle cx="100.20" cy="438.70" r="1.3"/>
<circle cx="100.43" cy="442.90" r="1.3"/>
<circle cx="100.65" cy="447.06" r="1.3"/>
<circle cx="100.88" cy="451.12" r="1.3"/>
<circle cx="101.11" cy="455.05" r="1.3"/>
<circle cx="101.33" cy="458.80" r="1.3"/>
<circle cx="101.56" cy="462.33" r="1.3"/>
<circle cx="101.79" cy="465.60" r="1.3"/>
<circle cx="102.01" cy="468.57" r="1.3"/>
<circle cx="102.24" cy="471.22" r="1.3"/>
<circle cx="102.47" cy="473.51" r="1.3"/>
<circle cx="102.69" cy="475.42" r="1.3"/>
<circle cx="102.92" cy="476.93" r="1.3"/>
<circle cx="103.15" cy="478.02" r="1.3"/>
<circle cx="103.37" cy="478.68" r="1.3"/>
<circle cx="103.60" cy="478.90" r="1.3"/>
<circle cx="103.82" cy="478.69" r="1.3"/>
<circle cx="104.05" cy="478.07" r="1.3"/>
<circle cx="104.27" cy="477.04" r="1.3"/>
<circle cx="104.49" cy="475.62" r="1.3"/>
<circle cx="104.72" cy="473.82" r="1.3"/>
<circle cx="104.94" cy="471.65" r="1.3"/>
<circle cx="105.16" cy="469.15" r="1.3"/>
<circle cx="105.39" cy="466.34" r="1.3"/>
<circle cx="105.61" cy="463.26" r="1.3"/>
<circle cx="105.83" cy="459.93" r="1.3"/>
<circle cx="106.06" cy="456.39" r="1.3"/>
<circle cx="106.28" cy="452.68" r="1.3"/>
<circle cx="106.50" cy="448.84" r="1.3"/>
<circle cx="106.73" cy="444.92" r="1.3"/>
<circle cx="106.95" cy="440.95" r="1.3"/>
<circle cx="107.17" cy="436.98" r="1.3"/>
<circle cx="107.40" cy="433.06" r="1.3"/>
<circle cx="107.62" cy="429.22" r="1.3"/>
<circle cx="107.84" cy="425.51" r="1.3"/>
<circle cx="108.07" cy="421.98" r="1.3"/>
<circle cx="108.29" cy="418.64" r="1.3"/>
<circle cx="108.51" cy="415.56" r="1.3"/>
<circle cx="108.74" cy="412.75" r="1.3"/>
<circle cx="108.96" cy="410.25" r="1.3"/>
<circle cx="109.18" cy="408.08" r="1.3"/>
<circle cx="109.41" cy="406.28" r="1.3"/>
<circle cx="109.63" cy="404.86" r="1.3"/>
<circle cx="109.85" cy="403.83" r="1.3"/>
<circle cx="110.08" cy="403.21" r="1.3"/>
<circle cx="110.30" cy="403.00" r="1.3"/>
<circle cx="110.52" cy="403.20" r="1.3"/>
<circle cx="110.75" cy="403.80" r="1.3"/>
<circle cx="110.97" cy="404.79" r="1.3"/>
<circle cx="111.19" cy="406.16" r="1.3"/>
<circle cx="111.42" cy="407.90" r="1.3"/>
<circle cx="111.64" cy="409.99" r="1.3"/>
<circle cx="111.86" cy="412.40" r="1.3"/>
<circle cx="112.09" cy="415.11" r="1.3"/>
<circle cx="112.31" cy="418.09" r="1.3"/>
<circle cx="112.53" cy="421.30" r="1.3"/>
<circle cx="112.76" cy="424.71" r="1.3"/>
<circle cx="112.98" cy="428.29" r="1.3"/>
<circle cx="113.20" cy="431.99" r="1.3"/>
<circle cx="113.43" cy="435.77" r="1.3"/>
<circle cx="113.65" cy="439.60" r="1.3"/>
<circle cx="113.87" cy="443.43" r="1.3"/>
<circle cx="114.10" cy="447.21" r="1.3"/>
<circle cx="114.32" cy="450.91" r="1.3"/>
<circle cx="114.54" cy="454.49" r="1.3"/>
<circle cx="114.77" cy="457.90" r="1.3"/>
<circle cx="114.99" cy="461.11" r="1.3"/>
<circle cx="115.21" cy="464.09" r="1.3"/>
<circle cx="115.44" cy="466.80" r="1.3"/>
<circle cx="115.66" cy="469.21" r="1.3"/>
<circle cx="115.88" cy="471.30" r="1.3"/>
<circle cx="116.11" cy="473.04" r="1.3"/>
<circle cx="116.33" cy="474.41" r="1.3"/>
<circle cx="116.55" cy="475.40" r="1.3"/>
<circle cx="116.78" cy="476.00" r="1.3"/>
<circle cx="117.00" cy="476.20" r="1.3"/>
<circle cx="117.14" cy="475.99" r="1.3"/>
<circle cx="117.28" cy="475.36" r="1.3"/>
<circle cx="117.42" cy="474.32" r="1.3"/>
<circle cx="117.56" cy="472.88" r="1.3"/>
<circle cx="117.70" cy="471.06" r="1.3"/>
<circle cx="117.84" cy="468.87" r="1.3"/>
<circle cx="117.98" cy="466.34" r="1.3"/>
<circle cx="118.12" cy="463.49" r="1.3"/>
<circle cx="118.26" cy="460.37" r="1.3"/>
<circle cx="118.40" cy="457.00" r="1.3"/>
<circle cx="118.54" cy="453.42" r="1.3"/>
<circle cx="118.68" cy="449.67" r="1.3"/>
<circle cx="118.82" cy="445.78" r="1.3"/>
<circle cx="118.96" cy="441.81" r="1.3"/>
<circle cx="119.10" cy="437.80" r="1.3"/>
<circle cx="119.24" cy="433.79" r="1.3"/>
<circle cx="119.38" cy="429.82" r="1.3"/>
<circle cx="119.52" cy="425.93" r="1.3"/>
<circle cx="119.66" cy="422.18" r="1.3"/>
<circle cx="119.80" cy="418.60" r="1.3"/>
<circle cx="119.94" cy="415.23" r="1.3"/>
<circle cx="120.08" cy="412.11" r="1.3"/>
<circle cx="120.22" cy="409.26" r="1.3"/>
<circle cx="120.36" cy="406.73" r="1.3"/>
<circle cx="120.50" cy="404.54" r="1.3"/>
<circle cx="120.64" cy="402.72" r="1.3"/>
<circle cx="120.78" cy="401.28" r="1.3"/>
<circle cx="120.92" cy="400.24" r="1.3"/>
<circle cx="121.06" cy="399.61" r="1.3"/>
<circle cx="121.20" cy="399.40" r="1.3"/>
</g>
<g clip-path="url(#cf)" fill="#dcb4fb" stroke="#a53cf0" stroke-width="0.8">
<circle cx="121.90" cy="399.40" r="1.35"/>
<circle cx="122.04" cy="399.57" r="1.35"/>
<circle cx="122.18" cy="400.06" r="1.35"/>
<circle cx="122.32" cy="400.88" r="1.35"/>
<circle cx="122.46" cy="402.02" r="1.35"/>
<circle cx="122.61" cy="403.47" r="1.35"/>
<circle cx="122.75" cy="405.21" r="1.35"/>
<circle cx="122.89" cy="407.24" r="1.35"/>
<circle cx="123.03" cy="409.53" r="1.35"/>
<circle cx="123.17" cy="412.06" r="1.35"/>
<circle cx="123.31" cy="414.82" r="1.35"/>
<circle cx="123.45" cy="417.77" r="1.35"/>
<circle cx="123.59" cy="420.91" r="1.35"/>
<circle cx="123.74" cy="424.18" r="1.35"/>
<circle cx="123.88" cy="427.58" r="1.35"/>
<circle cx="124.02" cy="431.07" r="1.35"/>
<circle cx="124.16" cy="434.62" r="1.35"/>
<circle cx="124.30" cy="438.20" r="1.35"/>
<circle cx="124.44" cy="441.78" r="1.35"/>
<circle cx="124.58" cy="445.33" r="1.35"/>
<circle cx="124.72" cy="448.82" r="1.35"/>
<circle cx="124.86" cy="452.22" r="1.35"/>
<circle cx="125.01" cy="455.49" r="1.35"/>
<circle cx="125.15" cy="458.63" r="1.35"/>
<circle cx="125.29" cy="461.58" r="1.35"/>
<circle cx="125.43" cy="464.34" r="1.35"/>
<circle cx="125.57" cy="466.87" r="1.35"/>
<circle cx="125.71" cy="469.16" r="1.35"/>
<circle cx="125.85" cy="471.19" r="1.35"/>
<circle cx="125.99" cy="472.93" r="1.35"/>
<circle cx="126.14" cy="474.38" r="1.35"/>
<circle cx="126.28" cy="475.52" r="1.35"/>
<circle cx="126.42" cy="476.34" r="1.35"/>
<circle cx="126.56" cy="476.83" r="1.35"/>
<circle cx="126.70" cy="477.00" r="1.35"/>
<circle cx="126.98" cy="476.84" r="1.35"/>
<circle cx="127.26" cy="476.37" r="1.35"/>
<circle cx="127.55" cy="475.59" r="1.35"/>
<circle cx="127.83" cy="474.50" r="1.35"/>
<circle cx="128.11" cy="473.12" r="1.35"/>
<circle cx="128.39" cy="471.46" r="1.35"/>
<circle cx="128.68" cy="469.53" r="1.35"/>
<circle cx="128.96" cy="467.34" r="1.35"/>
<circle cx="129.24" cy="464.93" r="1.35"/>
<circle cx="129.52" cy="462.30" r="1.35"/>
<circle cx="129.81" cy="459.48" r="1.35"/>
<circle cx="130.09" cy="456.49" r="1.35"/>
<circle cx="130.37" cy="453.37" r="1.35"/>
<circle cx="130.65" cy="450.13" r="1.35"/>
<circle cx="130.94" cy="446.80" r="1.35"/>
<circle cx="131.22" cy="443.41" r="1.35"/>
<circle cx="131.50" cy="440.00" r="1.35"/>
<circle cx="131.78" cy="436.59" r="1.35"/>
<circle cx="132.06" cy="433.20" r="1.35"/>
<circle cx="132.35" cy="429.87" r="1.35"/>
<circle cx="132.63" cy="426.63" r="1.35"/>
<circle cx="132.91" cy="423.51" r="1.35"/>
<circle cx="133.19" cy="420.52" r="1.35"/>
<circle cx="133.48" cy="417.70" r="1.35"/>
<circle cx="133.76" cy="415.07" r="1.35"/>
<circle cx="134.04" cy="412.66" r="1.35"/>
<circle cx="134.32" cy="410.47" r="1.35"/>
<circle cx="134.61" cy="408.54" r="1.35"/>
<circle cx="134.89" cy="406.88" r="1.35"/>
<circle cx="135.17" cy="405.50" r="1.35"/>
<circle cx="135.45" cy="404.41" r="1.35"/>
<circle cx="135.74" cy="403.63" r="1.35"/>
<circle cx="136.02" cy="403.16" r="1.35"/>
<circle cx="136.30" cy="403.00" r="1.35"/>
<circle cx="136.51" cy="403.15" r="1.35"/>
<circle cx="136.72" cy="403.61" r="1.35"/>
<circle cx="136.94" cy="404.36" r="1.35"/>
<circle cx="137.15" cy="405.41" r="1.35"/>
<circle cx="137.36" cy="406.74" r="1.35"/>
<circle cx="137.57" cy="408.35" r="1.35"/>
<circle cx="137.78" cy="410.21" r="1.35"/>
<circle cx="137.99" cy="412.32" r="1.35"/>
<circle cx="138.21" cy="414.65" r="1.35"/>
<circle cx="138.42" cy="417.19" r="1.35"/>
<circle cx="138.63" cy="419.91" r="1.35"/>
<circle cx="138.84" cy="422.79" r="1.35"/>
<circle cx="139.05" cy="425.80" r="1.35"/>
<circle cx="139.26" cy="428.93" r="1.35"/>
<circle cx="139.48" cy="432.14" r="1.35"/>
<circle cx="139.69" cy="435.41" r="1.35"/>
<circle cx="139.90" cy="438.70" r="1.35"/>
<circle cx="140.11" cy="441.99" r="1.35"/>
<circle cx="140.32" cy="445.26" r="1.35"/>
<circle cx="140.54" cy="448.47" r="1.35"/>
<circle cx="140.75" cy="451.60" r="1.35"/>
<circle cx="140.96" cy="454.61" r="1.35"/>
<circle cx="141.17" cy="457.49" r="1.35"/>
<circle cx="141.38" cy="460.21" r="1.35"/>
<circle cx="141.59" cy="462.75" r="1.35"/>
<circle cx="141.81" cy="465.08" r="1.35"/>
<circle cx="142.02" cy="467.19" r="1.35"/>
<circle cx="142.23" cy="469.05" r="1.35"/>
<circle cx="142.44" cy="470.66" r="1.35"/>
<circle cx="142.65" cy="471.99" r="1.35"/>
<circle cx="142.86" cy="473.04" r="1.35"/>
<circle cx="143.08" cy="473.79" r="1.35"/>
<circle cx="143.29" cy="474.25" r="1.35"/>
<circle cx="143.50" cy="474.40" r="1.35"/>
<circle cx="143.76" cy="474.25" r="1.35"/>
<circle cx="144.03" cy="473.79" r="1.35"/>
<circle cx="144.29" cy="473.03" r="1.35"/>
<circle cx="144.56" cy="471.97" r="1.35"/>
<circle cx="144.82" cy="470.63" r="1.35"/>
<circle cx="145.09" cy="469.02" r="1.35"/>
<circle cx="145.35" cy="467.14" r="1.35"/>
<circle cx="145.62" cy="465.02" r="1.35"/>
<circle cx="145.88" cy="462.67" r="1.35"/>
<circle cx="146.15" cy="460.11" r="1.35"/>
<circle cx="146.41" cy="457.38" r="1.35"/>
<circle cx="146.68" cy="454.47" r="1.35"/>
<circle cx="146.94" cy="451.44" r="1.35"/>
<circle cx="147.21" cy="448.29" r="1.35"/>
<circle cx="147.47" cy="445.06" r="1.35"/>
<circle cx="147.74" cy="441.77" r="1.35"/>
<circle cx="148.00" cy="438.45" r="1.35"/>
<circle cx="148.26" cy="435.13" r="1.35"/>
<circle cx="148.53" cy="431.84" r="1.35"/>
<circle cx="148.79" cy="428.61" r="1.35"/>
<circle cx="149.06" cy="425.46" r="1.35"/>
<circle cx="149.32" cy="422.43" r="1.35"/>
<circle cx="149.59" cy="419.52" r="1.35"/>
<circle cx="149.85" cy="416.79" r="1.35"/>
<circle cx="150.12" cy="414.23" r="1.35"/>
<circle cx="150.38" cy="411.88" r="1.35"/>
<circle cx="150.65" cy="409.76" r="1.35"/>
<circle cx="150.91" cy="407.88" r="1.35"/>
<circle cx="151.18" cy="406.27" r="1.35"/>
<circle cx="151.44" cy="404.93" r="1.35"/>
<circle cx="151.71" cy="403.87" r="1.35"/>
<circle cx="151.97" cy="403.11" r="1.35"/>
<circle cx="152.24" cy="402.65" r="1.35"/>
<circle cx="152.50" cy="402.50" r="1.35"/>
<circle cx="152.70" cy="402.66" r="1.35"/>
<circle cx="152.89" cy="403.13" r="1.35"/>
<circle cx="153.09" cy="403.91" r="1.35"/>
<circle cx="153.29" cy="404.99" r="1.35"/>
<circle cx="153.49" cy="406.36" r="1.35"/>
<circle cx="153.68" cy="408.02" r="1.35"/>
<circle cx="153.88" cy="409.94" r="1.35"/>
<circle cx="154.08" cy="412.12" r="1.35"/>
<circle cx="154.27" cy="414.52" r="1.35"/>
<circle cx="154.47" cy="417.14" r="1.35"/>
<circle cx="154.67" cy="419.95" r="1.35"/>
<circle cx="154.86" cy="422.92" r="1.35"/>
<circle cx="155.06" cy="426.04" r="1.35"/>
<circle cx="155.26" cy="429.27" r="1.35"/>
<circle cx="155.46" cy="432.58" r="1.35"/>
<circle cx="155.65" cy="435.95" r="1.35"/>
<circle cx="155.85" cy="439.35" r="1.35"/>
<circle cx="156.05" cy="442.75" r="1.35"/>
<circle cx="156.24" cy="446.12" r="1.35"/>
<circle cx="156.44" cy="449.43" r="1.35"/>
<circle cx="156.64" cy="452.66" r="1.35"/>
<circle cx="156.84" cy="455.78" r="1.35"/>
<circle cx="157.03" cy="458.75" r="1.35"/>
<circle cx="157.23" cy="461.56" r="1.35"/>
<circle cx="157.43" cy="464.18" r="1.35"/>
<circle cx="157.62" cy="466.58" r="1.35"/>
<circle cx="157.82" cy="468.76" r="1.35"/>
<circle cx="158.02" cy="470.68" r="1.35"/>
<circle cx="158.21" cy="472.34" r="1.35"/>
<circle cx="158.41" cy="473.71" r="1.35"/>
<circle cx="158.61" cy="474.79" r="1.35"/>
<circle cx="158.81" cy="475.57" r="1.35"/>
<circle cx="159.00" cy="476.04" r="1.35"/>
<circle cx="159.20" cy="476.20" r="1.35"/>
<circle cx="159.46" cy="476.05" r="1.35"/>
<circle cx="159.73" cy="475.59" r="1.35"/>
<circle cx="159.99" cy="474.84" r="1.35"/>
<circle cx="160.26" cy="473.79" r="1.35"/>
<circle cx="160.52" cy="472.46" r="1.35"/>
<circle cx="160.79" cy="470.86" r="1.35"/>
<circle cx="161.05" cy="469.00" r="1.35"/>
<circle cx="161.32" cy="466.90" r="1.35"/>
<circle cx="161.58" cy="464.57" r="1.35"/>
<circle cx="161.85" cy="462.03" r="1.35"/>
<circle cx="162.11" cy="459.32" r="1.35"/>
<circle cx="162.38" cy="456.44" r="1.35"/>
<circle cx="162.64" cy="453.43" r="1.35"/>
<circle cx="162.91" cy="450.31" r="1.35"/>
<circle cx="163.17" cy="447.10" r="1.35"/>
<circle cx="163.44" cy="443.84" r="1.35"/>
<circle cx="163.70" cy="440.55" r="1.35"/>
<circle cx="163.96" cy="437.26" r="1.35"/>
<circle cx="164.23" cy="434.00" r="1.35"/>
<circle cx="164.49" cy="430.79" r="1.35"/>
<circle cx="164.76" cy="427.67" r="1.35"/>
<circle cx="165.02" cy="424.66" r="1.35"/>
<circle cx="165.29" cy="421.78" r="1.35"/>
<circle cx="165.55" cy="419.07" r="1.35"/>
<circle cx="165.82" cy="416.53" r="1.35"/>
<circle cx="166.08" cy="414.20" r="1.35"/>
<circle cx="166.35" cy="412.10" r="1.35"/>
<circle cx="166.61" cy="410.24" r="1.35"/>
<circle cx="166.88" cy="408.64" r="1.35"/>
<circle cx="167.14" cy="407.31" r="1.35"/>
<circle cx="167.41" cy="406.26" r="1.35"/>
<circle cx="167.67" cy="405.51" r="1.35"/>
<circle cx="167.94" cy="405.05" r="1.35"/>
<circle cx="168.20" cy="404.90" r="1.35"/>
<circle cx="168.44" cy="405.05" r="1.35"/>
<circle cx="168.68" cy="405.50" r="1.35"/>
<circle cx="168.92" cy="406.24" r="1.35"/>
<circle cx="169.16" cy="407.28" r="1.35"/>
<circle cx="169.41" cy="408.59" r="1.35"/>
<circle cx="169.65" cy="410.17" r="1.35"/>
<circle cx="169.89" cy="412.01" r="1.35"/>
<circle cx="170.13" cy="414.09" r="1.35"/>
<circle cx="170.37" cy="416.39" r="1.35"/>
<circle cx="170.61" cy="418.89" r="1.35"/>
<circle cx="170.85" cy="421.57" r="1.35"/>
<circle cx="171.09" cy="424.41" r="1.35"/>
<circle cx="171.34" cy="427.38" r="1.35"/>
<circle cx="171.58" cy="430.47" r="1.35"/>
<circle cx="171.82" cy="433.63" r="1.35"/>
<circle cx="172.06" cy="436.85" r="1.35"/>
<circle cx="172.30" cy="440.10" r="1.35"/>
<circle cx="172.54" cy="443.35" r="1.35"/>
<circle cx="172.78" cy="446.57" r="1.35"/>
<circle cx="173.02" cy="449.73" r="1.35"/>
<circle cx="173.26" cy="452.82" r="1.35"/>
<circle cx="173.51" cy="455.79" r="1.35"/>
<circle cx="173.75" cy="458.63" r="1.35"/>
<circle cx="173.99" cy="461.31" r="1.35"/>
<circle cx="174.23" cy="463.81" r="1.35"/>
<circle cx="174.47" cy="466.11" r="1.35"/>
<circle cx="174.71" cy="468.19" r="1.35"/>
<circle cx="174.95" cy="470.03" r="1.35"/>
<circle cx="175.19" cy="471.61" r="1.35"/>
<circle cx="175.44" cy="472.92" r="1.35"/>
<circle cx="175.68" cy="473.96" r="1.35"/>
<circle cx="175.92" cy="474.70" r="1.35"/>
<circle cx="176.16" cy="475.15" r="1.35"/>
<circle cx="176.40" cy="475.30" r="1.35"/>
<circle cx="176.59" cy="475.15" r="1.35"/>
<circle cx="176.77" cy="474.68" r="1.35"/>
<circle cx="176.96" cy="473.92" r="1.35"/>
<circle cx="177.14" cy="472.86" r="1.35"/>
<circle cx="177.33" cy="471.51" r="1.35"/>
<circle cx="177.51" cy="469.89" r="1.35"/>
<circle cx="177.70" cy="468.00" r="1.35"/>
<circle cx="177.88" cy="465.87" r="1.35"/>
<circle cx="178.07" cy="463.50" r="1.35"/>
<circle cx="178.25" cy="460.94" r="1.35"/>
<circle cx="178.44" cy="458.18" r="1.35"/>
<circle cx="178.62" cy="455.26" r="1.35"/>
<circle cx="178.81" cy="452.21" r="1.35"/>
<circle cx="178.99" cy="449.04" r="1.35"/>
<circle cx="179.18" cy="445.79" r="1.35"/>
<circle cx="179.36" cy="442.49" r="1.35"/>
<circle cx="179.55" cy="439.15" r="1.35"/>
<circle cx="179.74" cy="435.81" r="1.35"/>
<circle cx="179.92" cy="432.51" r="1.35"/>
<circle cx="180.11" cy="429.26" r="1.35"/>
<circle cx="180.29" cy="426.09" r="1.35"/>
<circle cx="180.48" cy="423.04" r="1.35"/>
<circle cx="180.66" cy="420.12" r="1.35"/>
<circle cx="180.85" cy="417.36" r="1.35"/>
<circle cx="181.03" cy="414.80" r="1.35"/>
<circle cx="181.22" cy="412.43" r="1.35"/>
<circle cx="181.40" cy="410.30" r="1.35"/>
<circle cx="181.59" cy="408.41" r="1.35"/>
<circle cx="181.77" cy="406.79" r="1.35"/>
<circle cx="181.96" cy="405.44" r="1.35"/>
<circle cx="182.14" cy="404.38" r="1.35"/>
<circle cx="182.33" cy="403.62" r="1.35"/>
<circle cx="182.51" cy="403.15" r="1.35"/>
<circle cx="182.70" cy="403.00" r="1.35"/>
</g>
<rect x="35.4" y="391.7" width="151.4" height="14.1" fill="url(#bandb)" opacity="0.7"/>
<rect x="35.4" y="470.8" width="149.6" height="13.8" fill="url(#bandr)" opacity="0.82"/>
<text x="188.7" y="404.7" font-size="11.5" font-weight="bold" text-anchor="start" fill="#6cc6ee" >25°C</text>
<text x="189.9" y="480.7" font-size="11.5" font-weight="bold" text-anchor="start" fill="#e8505a" >45°C</text>
<text x="38.3" y="504.0" font-size="11.8" font-weight="bold" text-anchor="start" fill="#f2a6da" >±Δ8°C/min</text>
<text x="98.0" y="504.0" font-size="11.8" font-weight="bold" text-anchor="start" fill="#5ec0ef" >±Δ6°C/min</text>
<text x="158.9" y="504.0" font-size="11.8" font-weight="bold" text-anchor="start" fill="#ad45f2" >±Δ4°C/min</text>
<rect x="35.4" y="380.9" width="182.6" height="136.39999999999998" fill="none" stroke="#2b2b2b" stroke-width="1.3"/>
<line x1="35.4" y1="517.3" x2="35.4" y2="519.9" stroke="#2b2b2b" stroke-width="1.1"/>
<line x1="95.2" y1="517.3" x2="95.2" y2="519.9" stroke="#2b2b2b" stroke-width="1.1"/>
<line x1="155.0" y1="517.3" x2="155.0" y2="519.9" stroke="#2b2b2b" stroke-width="1.1"/>
<line x1="214.8" y1="517.3" x2="214.8" y2="519.9" stroke="#2b2b2b" stroke-width="1.1"/>
<line x1="65.3" y1="517.3" x2="65.3" y2="518.9" stroke="#2b2b2b" stroke-width="1.0"/>
<line x1="125.1" y1="517.3" x2="125.1" y2="518.9" stroke="#2b2b2b" stroke-width="1.0"/>
<line x1="184.9" y1="517.3" x2="184.9" y2="518.9" stroke="#2b2b2b" stroke-width="1.0"/>
<text x="35.4" y="532.0" font-size="11.8" font-weight="bold" text-anchor="middle" fill="#111" >0</text>
<text x="95.2" y="532.0" font-size="11.8" font-weight="bold" text-anchor="middle" fill="#111" >1800</text>
<text x="155.0" y="532.0" font-size="11.8" font-weight="bold" text-anchor="middle" fill="#111" >3600</text>
<text x="214.8" y="532.0" font-size="11.8" font-weight="bold" text-anchor="middle" fill="#111" >5400</text>
<line x1="32.8" y1="400.1" x2="35.4" y2="400.1" stroke="#2b2b2b" stroke-width="1.1"/>
<line x1="32.8" y1="447.2" x2="35.4" y2="447.2" stroke="#2b2b2b" stroke-width="1.1"/>
<line x1="32.8" y1="494.2" x2="35.4" y2="494.2" stroke="#2b2b2b" stroke-width="1.1"/>
<line x1="33.8" y1="423.6" x2="35.4" y2="423.6" stroke="#2b2b2b" stroke-width="1.0"/>
<line x1="33.8" y1="470.7" x2="35.4" y2="470.7" stroke="#2b2b2b" stroke-width="1.0"/>
<text x="31.0" y="404.1" font-size="11.8" font-weight="bold" text-anchor="end" fill="#111" >0</text>
<text x="31.0" y="451.2" font-size="11.8" font-weight="bold" text-anchor="end" fill="#111" >-12</text>
<text x="31.0" y="498.2" font-size="11.8" font-weight="bold" text-anchor="end" fill="#111" >-24</text>
<text transform="translate(5.7,451.5) rotate(-90)" x="0" y="3.9" font-size="11.5" font-weight="bold" text-anchor="middle" fill="#111">ΔR/R<tspan font-size="8.0" dy="2.5">0</tspan><tspan dy="-2.5"> ( % )</tspan></text>
<text x="126.7" y="549.5" font-size="11.7" font-weight="bold" text-anchor="middle" fill="#111" >Time ( s )</text>
<text x="7.5" y="386.2" font-size="20" font-weight="bold" text-anchor="start" fill="#111" >f</text>
<rect x="263.0" y="381.3" width="183.60000000000002" height="137.49999999999994" fill="url(#gg)"/>
<clipPath id="cg"><rect x="263.0" y="381.3" width="183.60000000000002" height="137.49999999999994"/></clipPath>
<g clip-path="url(#cg)" fill="#5dbdf4">
<use href="#pent" x="263.5" y="409.59999999999997"/>
<use href="#pent" x="267.3" y="409.2"/>
<use href="#pent" x="272.1" y="415.59999999999997"/>
<use href="#pent" x="276.6" y="429.79999999999995"/>
<use href="#pent" x="281.3" y="450.09999999999997"/>
<use href="#pent" x="285.9" y="471.0"/>
<use href="#pent" x="290.4" y="488.7"/>
<use href="#pent" x="295" y="502.09999999999997"/>
<use href="#pent" x="299.6" y="504.29999999999995"/>
<use href="#pent" x="303.9" y="496.29999999999995"/>
<use href="#pent" x="308.6" y="480.79999999999995"/>
<use href="#pent" x="313.3" y="462.7"/>
<use href="#pent" x="317.8" y="441.2"/>
<use href="#pent" x="322.5" y="425.0"/>
<use href="#pent" x="327" y="412.09999999999997"/>
<use href="#pent" x="331.8" y="409.29999999999995"/>
<use href="#pent" x="336.5" y="413.9"/>
<use href="#pent" x="341" y="427.2"/>
<use href="#pent" x="345.5" y="445.9"/>
<use href="#pent" x="350.2" y="467.0"/>
<use href="#pent" x="354.6" y="485.5"/>
<use href="#pent" x="359.3" y="500.2"/>
<use href="#pent" x="363.8" y="504.5"/>
<use href="#pent" x="368.4" y="499.09999999999997"/>
<use href="#pent" x="373" y="484.0"/>
<use href="#pent" x="377.6" y="465.9"/>
<use href="#pent" x="382.2" y="443.79999999999995"/>
<use href="#pent" x="386.8" y="426.79999999999995"/>
<use href="#pent" x="391.4" y="415.7"/>
<use href="#pent" x="396.2" y="418.9"/>
<use href="#pent" x="400.6" y="431.4"/>
<use href="#pent" x="405.3" y="453.29999999999995"/>
<use href="#pent" x="406.2" y="457.79999999999995"/>
<use href="#pent" x="409.7" y="473.4"/>
<use href="#pent" x="414.5" y="491.0"/>
<use href="#pent" x="419" y="502.9"/>
<use href="#pent" x="423.6" y="504.09999999999997"/>
<use href="#pent" x="428.3" y="494.29999999999995"/>
<use href="#pent" x="432.8" y="478.2"/>
<use href="#pent" x="437.4" y="456.9"/>
<use href="#pent" x="441.8" y="434.4"/>
<use href="#pent" x="445.5" y="417.9"/>
</g>
<text x="350.8" y="408.3" font-size="12.7" font-weight="normal" text-anchor="start" fill="#e39d6e" stroke="#e39d6e" stroke-width="0.3">37°C</text>
<text x="376.6" y="505.6" font-size="12.9" font-weight="normal" text-anchor="start" fill="#e39d6e" stroke="#e39d6e" stroke-width="0.3">37.5°C</text>
<rect x="263.0" y="381.3" width="183.60000000000002" height="137.49999999999994" fill="none" stroke="#2b2b2b" stroke-width="1.3"/>
<line x1="263.0" y1="518.8" x2="263.0" y2="521.4" stroke="#2b2b2b" stroke-width="1.1"/>
<line x1="308.9" y1="518.8" x2="308.9" y2="521.4" stroke="#2b2b2b" stroke-width="1.1"/>
<line x1="354.8" y1="518.8" x2="354.8" y2="521.4" stroke="#2b2b2b" stroke-width="1.1"/>
<line x1="400.7" y1="518.8" x2="400.7" y2="521.4" stroke="#2b2b2b" stroke-width="1.1"/>
<line x1="446.6" y1="518.8" x2="446.6" y2="521.4" stroke="#2b2b2b" stroke-width="1.1"/>
<line x1="285.9" y1="518.8" x2="285.9" y2="520.4" stroke="#2b2b2b" stroke-width="1.0"/>
<line x1="331.8" y1="518.8" x2="331.8" y2="520.4" stroke="#2b2b2b" stroke-width="1.0"/>
<line x1="377.8" y1="518.8" x2="377.8" y2="520.4" stroke="#2b2b2b" stroke-width="1.0"/>
<line x1="423.6" y1="518.8" x2="423.6" y2="520.4" stroke="#2b2b2b" stroke-width="1.0"/>
<text x="263.0" y="531.9" font-size="11.8" font-weight="bold" text-anchor="middle" fill="#111" >0</text>
<text x="308.9" y="531.9" font-size="11.8" font-weight="bold" text-anchor="middle" fill="#111" >2000</text>
<text x="354.8" y="531.9" font-size="11.8" font-weight="bold" text-anchor="middle" fill="#111" >4000</text>
<text x="400.7" y="531.9" font-size="11.8" font-weight="bold" text-anchor="middle" fill="#111" >6000</text>
<text x="446.6" y="531.9" font-size="11.8" font-weight="bold" text-anchor="middle" fill="#111" >8000</text>
<line x1="260.4" y1="408.4" x2="263.0" y2="408.4" stroke="#2b2b2b" stroke-width="1.1"/>
<line x1="260.4" y1="442.8" x2="263.0" y2="442.8" stroke="#2b2b2b" stroke-width="1.1"/>
<line x1="260.4" y1="477.2" x2="263.0" y2="477.2" stroke="#2b2b2b" stroke-width="1.1"/>
<line x1="260.4" y1="511.5" x2="263.0" y2="511.5" stroke="#2b2b2b" stroke-width="1.1"/>
<line x1="261.4" y1="391.2" x2="263.0" y2="391.2" stroke="#2b2b2b" stroke-width="1.0"/>
<line x1="261.4" y1="425.6" x2="263.0" y2="425.6" stroke="#2b2b2b" stroke-width="1.0"/>
<line x1="261.4" y1="460.0" x2="263.0" y2="460.0" stroke="#2b2b2b" stroke-width="1.0"/>
<line x1="261.4" y1="494.4" x2="263.0" y2="494.4" stroke="#2b2b2b" stroke-width="1.0"/>
<text x="258.6" y="412.4" font-size="11.8" font-weight="bold" text-anchor="end" fill="#111" >0.00</text>
<text x="258.6" y="446.8" font-size="11.8" font-weight="bold" text-anchor="end" fill="#111" >-0.25</text>
<text x="258.6" y="481.2" font-size="11.8" font-weight="bold" text-anchor="end" fill="#111" >-0.50</text>
<text x="258.6" y="515.5" font-size="11.8" font-weight="bold" text-anchor="end" fill="#111" >-0.75</text>
<text transform="translate(225.2,452.8) rotate(-90)" x="0" y="3.9" font-size="11.5" font-weight="bold" text-anchor="middle" fill="#111">ΔR/R<tspan font-size="8.0" dy="2.5">0</tspan><tspan dy="-2.5"> ( % )</tspan></text>
<text x="354.3" y="550.1" font-size="11.7" font-weight="bold" text-anchor="middle" fill="#111" >Time ( s )</text>
<text x="232.0" y="385.5" font-size="20" font-weight="bold" text-anchor="start" fill="#111" >g</text>
<rect x="496.4" y="381.6" width="182.60000000000002" height="136.89999999999998" fill="url(#gh)"/>
<rect x="557" y="384" width="40.7" height="134.5" fill="url(#bandh)" opacity="0.75"/>
<circle cx="501.30" cy="406.2" r="3.4" fill="url(#sp_r)"/>
<circle cx="505.49" cy="406.2" r="3.4" fill="url(#sp_r)"/>
<circle cx="509.68" cy="406.2" r="3.4" fill="url(#sp_r)"/>
<circle cx="513.87" cy="406.2" r="3.4" fill="url(#sp_r)"/>
<circle cx="518.06" cy="406.2" r="3.4" fill="url(#sp_r)"/>
<circle cx="522.25" cy="406.2" r="3.4" fill="url(#sp_r)"/>
<circle cx="526.44" cy="406.2" r="3.4" fill="url(#sp_r)"/>
<circle cx="530.63" cy="406.2" r="3.4" fill="url(#sp_r)"/>
<circle cx="534.82" cy="406.2" r="3.4" fill="url(#sp_r)"/>
<circle cx="539.01" cy="406.2" r="3.4" fill="url(#sp_r)"/>
<circle cx="543.20" cy="406.2" r="3.4" fill="url(#sp_r)"/>
<circle cx="547.39" cy="406.2" r="3.4" fill="url(#sp_r)"/>
<circle cx="551.58" cy="406.2" r="3.4" fill="url(#sp_r)"/>
<circle cx="555.77" cy="406.2" r="3.4" fill="url(#sp_r)"/>
<circle cx="560.4" cy="409.5" r="3.4" fill="url(#sp_m)"/>
<circle cx="564.6" cy="416.1" r="3.4" fill="url(#sp_m)"/>
<circle cx="569" cy="424.2" r="3.4" fill="url(#sp_m)"/>
<circle cx="573.4" cy="435.4" r="3.4" fill="url(#sp_m)"/>
<circle cx="577.3" cy="447.3" r="3.4" fill="url(#sp_m)"/>
<circle cx="581.6" cy="458.9" r="3.4" fill="url(#sp_m)"/>
<circle cx="586" cy="468.4" r="3.4" fill="url(#sp_m)"/>
<circle cx="590" cy="476.4" r="3.4" fill="url(#sp_m)"/>
<circle cx="594.3" cy="483.2" r="3.4" fill="url(#sp_m)"/>
<circle cx="599.1" cy="487.7" r="3.4" fill="url(#sp_r)"/>
<circle cx="603.1" cy="491.2" r="3.4" fill="url(#sp_r)"/>
<circle cx="607.6" cy="493.7" r="3.4" fill="url(#sp_r)"/>
<circle cx="614.2" cy="496" r="3.4" fill="url(#sp_r)"/>
<circle cx="619.9" cy="496.8" r="3.4" fill="url(#sp_r)"/>
<circle cx="628.4" cy="497.1" r="3.4" fill="url(#sp_r)"/>
<circle cx="636.3" cy="497.2" r="3.4" fill="url(#sp_r)"/>
<circle cx="640.4" cy="497.6" r="3.4" fill="url(#sp_r)"/>
<circle cx="645.1" cy="497.8" r="3.4" fill="url(#sp_r)"/>
<circle cx="649.8" cy="498.2" r="3.4" fill="url(#sp_r)"/>
<circle cx="654" cy="498.4" r="3.4" fill="url(#sp_r)"/>
<circle cx="658.1" cy="498.6" r="3.4" fill="url(#sp_r)"/>
<circle cx="662.2" cy="499.2" r="3.4" fill="url(#sp_r)"/>
<text x="572.3" y="421.0" font-size="10.8" font-weight="bold" text-anchor="start" fill="#7030a0" >Response time 7s</text>
<text x="519.2" y="437.5" font-size="12.2" font-weight="normal" text-anchor="start" fill="#3db5e8" stroke="#3db5e8" stroke-width="0.3">37°C</text>
<text x="635.4" y="490.0" font-size="11.9" font-weight="normal" text-anchor="start" fill="#e07b30" stroke="#e07b30" stroke-width="0.3">38°C</text>
<rect x="496.4" y="381.6" width="182.60000000000002" height="136.89999999999998" fill="none" stroke="#2b2b2b" stroke-width="1.3"/>
<line x1="496.8" y1="518.5" x2="496.8" y2="521.1" stroke="#2b2b2b" stroke-width="1.1"/>
<line x1="538.5" y1="518.5" x2="538.5" y2="521.1" stroke="#2b2b2b" stroke-width="1.1"/>
<line x1="580.2" y1="518.5" x2="580.2" y2="521.1" stroke="#2b2b2b" stroke-width="1.1"/>
<line x1="621.9" y1="518.5" x2="621.9" y2="521.1" stroke="#2b2b2b" stroke-width="1.1"/>
<line x1="663.6" y1="518.5" x2="663.6" y2="521.1" stroke="#2b2b2b" stroke-width="1.1"/>
<line x1="517.6" y1="518.5" x2="517.6" y2="520.1" stroke="#2b2b2b" stroke-width="1.0"/>
<line x1="559.4" y1="518.5" x2="559.4" y2="520.1" stroke="#2b2b2b" stroke-width="1.0"/>
<line x1="601.1" y1="518.5" x2="601.1" y2="520.1" stroke="#2b2b2b" stroke-width="1.0"/>
<line x1="642.8" y1="518.5" x2="642.8" y2="520.1" stroke="#2b2b2b" stroke-width="1.0"/>
<text x="496.8" y="532.8" font-size="11.8" font-weight="bold" text-anchor="middle" fill="#111" >0</text>
<text x="538.5" y="532.8" font-size="11.8" font-weight="bold" text-anchor="middle" fill="#111" >8</text>
<text x="580.2" y="532.8" font-size="11.8" font-weight="bold" text-anchor="middle" fill="#111" >16</text>
<text x="621.9" y="532.8" font-size="11.8" font-weight="bold" text-anchor="middle" fill="#111" >24</text>
<text x="663.6" y="532.8" font-size="11.8" font-weight="bold" text-anchor="middle" fill="#111" >32</text>
<line x1="493.79999999999995" y1="406.4" x2="496.4" y2="406.4" stroke="#2b2b2b" stroke-width="1.1"/>
<line x1="493.79999999999995" y1="441.3" x2="496.4" y2="441.3" stroke="#2b2b2b" stroke-width="1.1"/>
<line x1="493.79999999999995" y1="476.5" x2="496.4" y2="476.5" stroke="#2b2b2b" stroke-width="1.1"/>
<line x1="493.79999999999995" y1="511.2" x2="496.4" y2="511.2" stroke="#2b2b2b" stroke-width="1.1"/>
<line x1="494.79999999999995" y1="389.0" x2="496.4" y2="389.0" stroke="#2b2b2b" stroke-width="1.0"/>
<line x1="494.79999999999995" y1="423.9" x2="496.4" y2="423.9" stroke="#2b2b2b" stroke-width="1.0"/>
<line x1="494.79999999999995" y1="458.9" x2="496.4" y2="458.9" stroke="#2b2b2b" stroke-width="1.0"/>
<line x1="494.79999999999995" y1="493.9" x2="496.4" y2="493.9" stroke="#2b2b2b" stroke-width="1.0"/>
<text x="492.0" y="410.4" font-size="11.8" font-weight="bold" text-anchor="end" fill="#111" >0.0</text>
<text x="492.0" y="445.3" font-size="11.8" font-weight="bold" text-anchor="end" fill="#111" >-1.4</text>
<text x="492.0" y="480.5" font-size="11.8" font-weight="bold" text-anchor="end" fill="#111" >-2.8</text>
<text x="492.0" y="515.2" font-size="11.8" font-weight="bold" text-anchor="end" fill="#111" >-4.2</text>
<text transform="translate(464.6,449.0) rotate(-90)" x="0" y="3.9" font-size="11.5" font-weight="bold" text-anchor="middle" fill="#111">ΔR/R<tspan font-size="8.0" dy="2.5">0</tspan><tspan dy="-2.5"> ( % )</tspan></text>
<text x="588.2" y="551.1" font-size="11.7" font-weight="bold" text-anchor="middle" fill="#111" >Time ( s )</text>
<text x="468.0" y="386.2" font-size="20" font-weight="bold" text-anchor="start" fill="#111" >h</text>
<rect x="304" y="3" width="378" height="192.5" fill="url(#gb)"/>
<path d="M440.6 53.3 C448 62 452 72 458.2 79.2 C463 84 468 87 472.7 89.6 L472.7 74 L496.5 103.1 L472.7 132.1 L472.7 117.6 C466 120 462 123 458.2 126.9 C452 134 447 144 440.6 152.8 Z" fill="url(#arrowg)"/>
<path d="M345.5 38.8 C347.5 31.8 350.7 26.4 352.7 19.4 C364.7 20.4 365.3 23.3 381.3 39.3 C379.3 45.3 376.5 50.4 374.5 56.4 C358.5 40.4 357.5 39.8 345.5 38.8 Z" fill="url(#mx)" stroke="#3a3a3a" stroke-width="0.5"/>
<path d="M346.9 34.9 C358.9 35.9 359.9 37.0 375.9 53.0" fill="none" stroke="#7a7a7a" stroke-width="0.5" opacity="0.6"/>
<path d="M348.4 31.0 C360.4 32.0 361.2 33.6 377.2 49.6" fill="none" stroke="#7a7a7a" stroke-width="0.5" opacity="0.6"/>
<path d="M349.8 27.2 C361.8 28.2 362.6 30.1 378.6 46.1" fill="none" stroke="#7a7a7a" stroke-width="0.5" opacity="0.6"/>
<path d="M351.3 23.3 C363.3 24.3 363.9 26.7 379.9 42.7" fill="none" stroke="#7a7a7a" stroke-width="0.5" opacity="0.6"/>
<path d="M359.3 37.3 C361.3 30.3 364.5 24.9 366.5 17.9 C378.5 18.9 379.1 21.8 395.1 37.8 C393.1 43.8 390.3 48.9 388.3 54.9 C372.3 38.9 371.3 38.3 359.3 37.3 Z" fill="url(#mx)" stroke="#3a3a3a" stroke-width="0.5"/>
<path d="M360.7 33.4 C372.7 34.4 373.7 35.5 389.7 51.5" fill="none" stroke="#7a7a7a" stroke-width="0.5" opacity="0.6"/>
<path d="M362.2 29.5 C374.2 30.5 375.0 32.1 391.0 48.1" fill="none" stroke="#7a7a7a" stroke-width="0.5" opacity="0.6"/>
<path d="M363.6 25.7 C375.6 26.7 376.4 28.6 392.4 44.6" fill="none" stroke="#7a7a7a" stroke-width="0.5" opacity="0.6"/>
<path d="M365.1 21.8 C377.1 22.8 377.7 25.2 393.7 41.2" fill="none" stroke="#7a7a7a" stroke-width="0.5" opacity="0.6"/>
<path d="M374.2 35.8 C376.2 28.8 379.4 23.4 381.4 16.4 C393.4 17.4 394.0 20.3 410.0 36.3 C408.0 42.3 405.2 47.4 403.2 53.4 C387.2 37.4 386.2 36.8 374.2 35.8 Z" fill="url(#mx)" stroke="#3a3a3a" stroke-width="0.5"/>
<path d="M375.6 31.9 C387.6 32.9 388.6 34.0 404.6 50.0" fill="none" stroke="#7a7a7a" stroke-width="0.5" opacity="0.6"/>
<path d="M377.1 28.0 C389.1 29.0 389.9 30.6 405.9 46.6" fill="none" stroke="#7a7a7a" stroke-width="0.5" opacity="0.6"/>
<path d="M378.5 24.2 C390.5 25.2 391.3 27.1 407.3 43.1" fill="none" stroke="#7a7a7a" stroke-width="0.5" opacity="0.6"/>
<path d="M380.0 20.3 C392.0 21.3 392.6 23.7 408.6 39.7" fill="none" stroke="#7a7a7a" stroke-width="0.5" opacity="0.6"/>
<text x="402.2" y="25.5" font-size="13.4" font-weight="bold" text-anchor="start" fill="#111" >Mxene</text>
<text x="399.0" y="79.2" font-size="13.4" font-weight="bold" text-anchor="start" fill="#111" >CNF</text>
<text x="408.0" y="138.0" font-size="13.4" font-weight="bold" text-anchor="start" fill="#111" >PVA</text>
<line x1="355.4" y1="108.8" x2="347.6" y2="110.3" stroke="#66c2e8" stroke-width="1.7"/><line x1="347.6" y1="110.3" x2="341.8" y2="106.6" stroke="#66c2e8" stroke-width="1.7"/><line x1="341.8" y1="106.6" x2="343.7" y2="101.5" stroke="#66c2e8" stroke-width="1.7"/><line x1="343.7" y1="101.5" x2="351.5" y2="100.1" stroke="#66c2e8" stroke-width="1.7"/><line x1="351.5" y1="100.1" x2="357.3" y2="103.7" stroke="#66c2e8" stroke-width="1.7"/><line x1="357.3" y1="103.7" x2="355.4" y2="108.8" stroke="#66c2e8" stroke-width="1.7"/><line x1="355.4" y1="108.8" x2="359.7" y2="111.5" stroke="#66c2e8" stroke-width="1.7"/><line x1="347.6" y1="110.3" x2="347.8" y2="114.3" stroke="#66c2e8" stroke-width="1.7"/><line x1="341.8" y1="106.6" x2="337.8" y2="106.3" stroke="#66c2e8" stroke-width="1.7"/><line x1="337.8" y1="106.3" x2="336.0" y2="108.7" stroke="#66c2e8" stroke-width="1.7"/><line x1="337.8" y1="106.3" x2="336.4" y2="103.7" stroke="#66c2e8" stroke-width="1.7"/><line x1="343.7" y1="101.5" x2="337.6" y2="99.7" stroke="#66c2e8" stroke-width="1.7"/><line x1="351.5" y1="100.1" x2="350.8" y2="94.8" stroke="#66c2e8" stroke-width="1.7"/><line x1="357.3" y1="103.7" x2="361.8" y2="101.4" stroke="#66c2e8" stroke-width="1.7"/><line x1="361.8" y1="101.4" x2="364.4" y2="102.3" stroke="#66c2e8" stroke-width="1.7"/><line x1="379.0" y1="102.8" x2="372.1" y2="105.5" stroke="#66c2e8" stroke-width="1.7"/><line x1="372.1" y1="105.5" x2="365.0" y2="103.0" stroke="#66c2e8" stroke-width="1.7"/><line x1="365.0" y1="103.0" x2="364.8" y2="97.8" stroke="#66c2e8" stroke-width="1.7"/><line x1="364.8" y1="97.8" x2="371.7" y2="95.0" stroke="#66c2e8" stroke-width="1.7"/><line x1="371.7" y1="95.0" x2="378.7" y2="97.5" stroke="#66c2e8" stroke-width="1.7"/><line x1="378.7" y1="97.5" x2="379.0" y2="102.8" stroke="#66c2e8" stroke-width="1.7"/><line x1="379.0" y1="102.8" x2="383.5" y2="103.1" stroke="#66c2e8" stroke-width="1.7"/><line x1="383.5" y1="103.1" x2="385.3" y2="100.7" stroke="#66c2e8" stroke-width="1.7"/><line x1="383.5" y1="103.1" x2="384.9" y2="105.7" stroke="#66c2e8" stroke-width="1.7"/><line x1="372.1" y1="105.5" x2="375.1" y2="110.8" stroke="#66c2e8" stroke-width="1.7"/><line x1="375.1" y1="110.8" x2="378.1" y2="110.9" stroke="#66c2e8" stroke-width="1.7"/><line x1="375.1" y1="110.8" x2="373.8" y2="113.5" stroke="#66c2e8" stroke-width="1.7"/><line x1="365.0" y1="103.0" x2="360.1" y2="107.2" stroke="#66c2e8" stroke-width="1.7"/><line x1="364.8" y1="97.8" x2="359.1" y2="96.8" stroke="#66c2e8" stroke-width="1.7"/><line x1="378.7" y1="97.5" x2="384.4" y2="97.2" stroke="#66c2e8" stroke-width="1.7"/><line x1="384.4" y1="97.2" x2="386.5" y2="99.1" stroke="#66c2e8" stroke-width="1.7"/><line x1="355.4" y1="108.8" x2="360.1" y2="103.6" stroke="#66c2e8" stroke-width="1.7"/><line x1="360.1" y1="103.6" x2="364.8" y2="97.8" stroke="#66c2e8" stroke-width="1.7"/><line x1="403.6" y1="107.7" x2="396.7" y2="110.4" stroke="#66c2e8" stroke-width="1.7"/><line x1="396.7" y1="110.4" x2="389.6" y2="107.9" stroke="#66c2e8" stroke-width="1.7"/><line x1="389.6" y1="107.9" x2="389.5" y2="102.6" stroke="#66c2e8" stroke-width="1.7"/><line x1="389.5" y1="102.6" x2="396.4" y2="99.9" stroke="#66c2e8" stroke-width="1.7"/><line x1="396.4" y1="99.9" x2="403.4" y2="102.4" stroke="#66c2e8" stroke-width="1.7"/><line x1="403.4" y1="102.4" x2="403.6" y2="107.7" stroke="#66c2e8" stroke-width="1.7"/><line x1="403.6" y1="107.7" x2="408.1" y2="107.1" stroke="#66c2e8" stroke-width="1.7"/><line x1="396.7" y1="110.4" x2="398.5" y2="115.4" stroke="#66c2e8" stroke-width="1.7"/><line x1="389.6" y1="107.9" x2="385.2" y2="110.3" stroke="#66c2e8" stroke-width="1.7"/><line x1="385.2" y1="110.3" x2="384.9" y2="113.3" stroke="#66c2e8" stroke-width="1.7"/><line x1="385.2" y1="110.3" x2="382.5" y2="108.9" stroke="#66c2e8" stroke-width="1.7"/><line x1="389.5" y1="102.6" x2="384.8" y2="100.8" stroke="#66c2e8" stroke-width="1.7"/><line x1="384.8" y1="100.8" x2="382.4" y2="102.6" stroke="#66c2e8" stroke-width="1.7"/><line x1="384.8" y1="100.8" x2="384.2" y2="97.9" stroke="#66c2e8" stroke-width="1.7"/><line x1="396.4" y1="99.9" x2="393.7" y2="94.8" stroke="#66c2e8" stroke-width="1.7"/><line x1="403.4" y1="102.4" x2="407.4" y2="100.4" stroke="#66c2e8" stroke-width="1.7"/><line x1="407.4" y1="100.4" x2="407.6" y2="97.4" stroke="#66c2e8" stroke-width="1.7"/><line x1="407.4" y1="100.4" x2="410.0" y2="101.9" stroke="#66c2e8" stroke-width="1.7"/><line x1="379.0" y1="102.8" x2="384.2" y2="104.6" stroke="#66c2e8" stroke-width="1.7"/><line x1="384.2" y1="104.6" x2="389.5" y2="102.6" stroke="#66c2e8" stroke-width="1.7"/><line x1="423.3" y1="105.5" x2="415.4" y2="106.4" stroke="#66c2e8" stroke-width="1.7"/><line x1="415.4" y1="106.4" x2="410.2" y2="102.5" stroke="#66c2e8" stroke-width="1.7"/><line x1="410.2" y1="102.5" x2="412.8" y2="97.5" stroke="#66c2e8" stroke-width="1.7"/><line x1="412.8" y1="97.5" x2="420.7" y2="96.5" stroke="#66c2e8" stroke-width="1.7"/><line x1="420.7" y1="96.5" x2="426.0" y2="100.5" stroke="#66c2e8" stroke-width="1.7"/><line x1="426.0" y1="100.5" x2="423.3" y2="105.5" stroke="#66c2e8" stroke-width="1.7"/><line x1="423.3" y1="105.5" x2="428.4" y2="109.4" stroke="#66c2e8" stroke-width="1.7"/><line x1="428.4" y1="109.4" x2="431.2" y2="108.4" stroke="#66c2e8" stroke-width="1.7"/><line x1="428.4" y1="109.4" x2="428.1" y2="112.4" stroke="#66c2e8" stroke-width="1.7"/><line x1="415.4" y1="106.4" x2="414.0" y2="111.6" stroke="#66c2e8" stroke-width="1.7"/><line x1="410.2" y1="102.5" x2="404.2" y2="101.5" stroke="#66c2e8" stroke-width="1.7"/><line x1="412.8" y1="97.5" x2="409.8" y2="93.2" stroke="#66c2e8" stroke-width="1.7"/><line x1="409.8" y1="93.2" x2="406.8" y2="93.3" stroke="#66c2e8" stroke-width="1.7"/><line x1="409.8" y1="93.2" x2="410.9" y2="90.4" stroke="#66c2e8" stroke-width="1.7"/><line x1="420.7" y1="96.5" x2="421.0" y2="90.4" stroke="#66c2e8" stroke-width="1.7"/><line x1="421.0" y1="90.4" x2="418.6" y2="88.6" stroke="#66c2e8" stroke-width="1.7"/><line x1="421.0" y1="90.4" x2="423.6" y2="88.9" stroke="#66c2e8" stroke-width="1.7"/><line x1="426.0" y1="100.5" x2="431.2" y2="99.9" stroke="#66c2e8" stroke-width="1.7"/><line x1="431.2" y1="99.9" x2="432.5" y2="97.2" stroke="#66c2e8" stroke-width="1.7"/><line x1="431.2" y1="99.9" x2="433.1" y2="102.2" stroke="#66c2e8" stroke-width="1.7"/><line x1="403.6" y1="107.7" x2="408.2" y2="102.0" stroke="#66c2e8" stroke-width="1.7"/><line x1="408.2" y1="102.0" x2="412.8" y2="97.5" stroke="#66c2e8" stroke-width="1.7"/><circle cx="418.6" cy="88.6" r="1.2" fill="#4ee3a6"/><circle cx="423.6" cy="88.9" r="1.2" fill="#4ee3a6"/><circle cx="421.0" cy="90.4" r="1.8" fill="#58b4e2"/><circle cx="410.9" cy="90.4" r="1.2" fill="#4ee3a6"/><circle cx="409.8" cy="93.2" r="1.8" fill="#58b4e2"/><circle cx="406.8" cy="93.3" r="1.2" fill="#4ee3a6"/><circle cx="350.8" cy="94.8" r="1.2" fill="#4ee3a6"/><circle cx="393.7" cy="94.8" r="1.2" fill="#4ee3a6"/><circle cx="371.7" cy="95.0" r="1.9" fill="#58b4e2"/><circle cx="420.7" cy="96.5" r="1.9" fill="#58b4e2"/><circle cx="359.1" cy="96.8" r="1.2" fill="#4ee3a6"/><circle cx="432.5" cy="97.2" r="1.2" fill="#4ee3a6"/><circle cx="384.4" cy="97.2" r="1.7" fill="#e03838"/><circle cx="407.6" cy="97.4" r="1.2" fill="#4ee3a6"/><circle cx="412.8" cy="97.5" r="1.9" fill="#58b4e2"/><circle cx="378.7" cy="97.5" r="1.9" fill="#58b4e2"/><circle cx="364.8" cy="97.8" r="1.9" fill="#58b4e2"/><circle cx="384.2" cy="97.9" r="1.2" fill="#4ee3a6"/><circle cx="386.5" cy="99.1" r="1.2" fill="#4ee3a6"/><circle cx="337.6" cy="99.7" r="1.2" fill="#4ee3a6"/><circle cx="431.2" cy="99.9" r="1.8" fill="#58b4e2"/><circle cx="396.4" cy="99.9" r="1.9" fill="#58b4e2"/><circle cx="351.5" cy="100.1" r="1.9" fill="#58b4e2"/><circle cx="407.4" cy="100.4" r="1.8" fill="#58b4e2"/><circle cx="426.0" cy="100.5" r="1.9" fill="#58b4e2"/><circle cx="385.3" cy="100.7" r="1.2" fill="#4ee3a6"/><circle cx="384.8" cy="100.8" r="1.8" fill="#58b4e2"/><circle cx="361.8" cy="101.4" r="1.7" fill="#e03838"/><circle cx="404.2" cy="101.5" r="1.2" fill="#4ee3a6"/><circle cx="343.7" cy="101.5" r="1.9" fill="#58b4e2"/><circle cx="410.0" cy="101.9" r="1.2" fill="#4ee3a6"/><circle cx="408.2" cy="102.0" r="1.8" fill="#e03838"/><circle cx="433.1" cy="102.2" r="1.2" fill="#4ee3a6"/><circle cx="364.4" cy="102.3" r="1.2" fill="#4ee3a6"/><circle cx="403.4" cy="102.4" r="1.9" fill="#58b4e2"/><circle cx="410.2" cy="102.5" r="1.9" fill="#58b4e2"/><circle cx="382.4" cy="102.6" r="1.2" fill="#4ee3a6"/><circle cx="389.5" cy="102.6" r="1.9" fill="#58b4e2"/><circle cx="379.0" cy="102.8" r="1.9" fill="#e03838"/><circle cx="365.0" cy="103.0" r="1.9" fill="#58b4e2"/><circle cx="383.5" cy="103.1" r="1.8" fill="#58b4e2"/><circle cx="360.1" cy="103.6" r="1.8" fill="#e03838"/><circle cx="336.4" cy="103.7" r="1.2" fill="#4ee3a6"/><circle cx="357.3" cy="103.7" r="1.9" fill="#58b4e2"/><circle cx="384.2" cy="104.6" r="1.8" fill="#e03838"/><circle cx="423.3" cy="105.5" r="1.9" fill="#e03838"/><circle cx="372.1" cy="105.5" r="1.9" fill="#58b4e2"/><circle cx="384.9" cy="105.7" r="1.2" fill="#4ee3a6"/><circle cx="337.8" cy="106.3" r="1.8" fill="#58b4e2"/><circle cx="415.4" cy="106.4" r="1.9" fill="#58b4e2"/><circle cx="341.8" cy="106.6" r="1.9" fill="#58b4e2"/><circle cx="408.1" cy="107.1" r="1.2" fill="#4ee3a6"/><circle cx="360.1" cy="107.2" r="1.2" fill="#4ee3a6"/><circle cx="403.6" cy="107.7" r="1.9" fill="#e03838"/><circle cx="389.6" cy="107.9" r="1.9" fill="#58b4e2"/><circle cx="431.2" cy="108.4" r="1.2" fill="#4ee3a6"/><circle cx="336.0" cy="108.7" r="1.2" fill="#4ee3a6"/><circle cx="355.4" cy="108.8" r="1.9" fill="#e03838"/><circle cx="382.5" cy="108.9" r="1.2" fill="#4ee3a6"/><circle cx="428.4" cy="109.4" r="1.8" fill="#58b4e2"/><circle cx="347.6" cy="110.3" r="1.9" fill="#58b4e2"/><circle cx="385.2" cy="110.3" r="1.8" fill="#58b4e2"/><circle cx="396.7" cy="110.4" r="1.9" fill="#58b4e2"/><circle cx="375.1" cy="110.8" r="1.8" fill="#58b4e2"/><circle cx="378.1" cy="110.9" r="1.2" fill="#4ee3a6"/><circle cx="359.7" cy="111.5" r="1.2" fill="#4ee3a6"/><circle cx="414.0" cy="111.6" r="1.2" fill="#4ee3a6"/><circle cx="428.1" cy="112.4" r="1.2" fill="#4ee3a6"/><circle cx="384.9" cy="113.3" r="1.2" fill="#4ee3a6"/><circle cx="373.8" cy="113.5" r="1.2" fill="#4ee3a6"/><circle cx="347.8" cy="114.3" r="1.2" fill="#4ee3a6"/><circle cx="398.5" cy="115.4" r="1.2" fill="#4ee3a6"/>
<line x1="375.5" y1="164.0" x2="371.1" y2="168.4" stroke="#66c2e8" stroke-width="1.7"/><line x1="371.1" y1="168.4" x2="363.1" y2="168.1" stroke="#66c2e8" stroke-width="1.7"/><line x1="363.1" y1="168.1" x2="359.5" y2="163.4" stroke="#66c2e8" stroke-width="1.7"/><line x1="359.5" y1="163.4" x2="363.9" y2="159.0" stroke="#66c2e8" stroke-width="1.7"/><line x1="363.9" y1="159.0" x2="371.9" y2="159.3" stroke="#66c2e8" stroke-width="1.7"/><line x1="371.9" y1="159.3" x2="375.5" y2="164.0" stroke="#66c2e8" stroke-width="1.7"/><line x1="375.5" y1="164.0" x2="381.0" y2="166.2" stroke="#66c2e8" stroke-width="1.7"/><line x1="371.1" y1="168.4" x2="374.0" y2="173.1" stroke="#66c2e8" stroke-width="1.7"/><line x1="374.0" y1="173.1" x2="377.0" y2="173.2" stroke="#66c2e8" stroke-width="1.7"/><line x1="374.0" y1="173.1" x2="372.7" y2="175.8" stroke="#66c2e8" stroke-width="1.7"/><line x1="363.1" y1="168.1" x2="359.8" y2="171.9" stroke="#66c2e8" stroke-width="1.7"/><line x1="371.9" y1="159.3" x2="375.0" y2="155.9" stroke="#66c2e8" stroke-width="1.7"/><line x1="375.0" y1="155.9" x2="377.8" y2="155.8" stroke="#66c2e8" stroke-width="1.7"/><line x1="390.8" y1="159.2" x2="384.7" y2="162.7" stroke="#66c2e8" stroke-width="1.7"/><line x1="384.7" y1="162.7" x2="377.1" y2="161.0" stroke="#66c2e8" stroke-width="1.7"/><line x1="377.1" y1="161.0" x2="375.5" y2="155.9" stroke="#66c2e8" stroke-width="1.7"/><line x1="375.5" y1="155.9" x2="381.5" y2="152.4" stroke="#66c2e8" stroke-width="1.7"/><line x1="381.5" y1="152.4" x2="389.1" y2="154.1" stroke="#66c2e8" stroke-width="1.7"/><line x1="389.1" y1="154.1" x2="390.8" y2="159.2" stroke="#66c2e8" stroke-width="1.7"/><line x1="390.8" y1="159.2" x2="395.1" y2="162.2" stroke="#66c2e8" stroke-width="1.7"/><line x1="395.1" y1="162.2" x2="397.9" y2="161.1" stroke="#66c2e8" stroke-width="1.7"/><line x1="395.1" y1="162.2" x2="395.0" y2="165.2" stroke="#66c2e8" stroke-width="1.7"/><line x1="384.7" y1="162.7" x2="388.2" y2="166.1" stroke="#66c2e8" stroke-width="1.7"/><line x1="388.2" y1="166.1" x2="388.1" y2="168.9" stroke="#66c2e8" stroke-width="1.7"/><line x1="377.1" y1="161.0" x2="371.4" y2="161.2" stroke="#66c2e8" stroke-width="1.7"/><line x1="371.4" y1="161.2" x2="369.4" y2="159.3" stroke="#66c2e8" stroke-width="1.7"/><line x1="381.5" y1="152.4" x2="381.0" y2="146.2" stroke="#66c2e8" stroke-width="1.7"/><line x1="389.1" y1="154.1" x2="394.2" y2="150.0" stroke="#66c2e8" stroke-width="1.7"/><line x1="375.5" y1="164.0" x2="375.5" y2="158.6" stroke="#66c2e8" stroke-width="1.7"/><line x1="375.5" y1="158.6" x2="375.5" y2="155.9" stroke="#66c2e8" stroke-width="1.7"/><line x1="412.6" y1="163.1" x2="405.8" y2="166.0" stroke="#66c2e8" stroke-width="1.7"/><line x1="405.8" y1="166.0" x2="398.6" y2="163.7" stroke="#66c2e8" stroke-width="1.7"/><line x1="398.6" y1="163.7" x2="398.1" y2="158.4" stroke="#66c2e8" stroke-width="1.7"/><line x1="398.1" y1="158.4" x2="404.8" y2="155.5" stroke="#66c2e8" stroke-width="1.7"/><line x1="404.8" y1="155.5" x2="412.1" y2="157.9" stroke="#66c2e8" stroke-width="1.7"/><line x1="412.1" y1="157.9" x2="412.6" y2="163.1" stroke="#66c2e8" stroke-width="1.7"/><line x1="412.6" y1="163.1" x2="418.6" y2="165.0" stroke="#66c2e8" stroke-width="1.7"/><line x1="418.6" y1="165.0" x2="420.9" y2="163.1" stroke="#66c2e8" stroke-width="1.7"/><line x1="418.6" y1="165.0" x2="419.4" y2="167.9" stroke="#66c2e8" stroke-width="1.7"/><line x1="405.8" y1="166.0" x2="407.3" y2="172.0" stroke="#66c2e8" stroke-width="1.7"/><line x1="398.6" y1="163.7" x2="392.7" y2="165.8" stroke="#66c2e8" stroke-width="1.7"/><line x1="398.1" y1="158.4" x2="393.3" y2="158.2" stroke="#66c2e8" stroke-width="1.7"/><line x1="404.8" y1="155.5" x2="406.3" y2="151.1" stroke="#66c2e8" stroke-width="1.7"/><line x1="412.1" y1="157.9" x2="417.8" y2="158.1" stroke="#66c2e8" stroke-width="1.7"/><line x1="417.8" y1="158.1" x2="419.6" y2="155.7" stroke="#66c2e8" stroke-width="1.7"/><line x1="417.8" y1="158.1" x2="419.3" y2="160.7" stroke="#66c2e8" stroke-width="1.7"/><line x1="390.8" y1="159.2" x2="394.4" y2="158.9" stroke="#66c2e8" stroke-width="1.7"/><line x1="394.4" y1="158.9" x2="398.1" y2="158.4" stroke="#66c2e8" stroke-width="1.7"/><circle cx="381.0" cy="146.2" r="1.2" fill="#4ee3a6"/><circle cx="394.2" cy="150.0" r="1.2" fill="#4ee3a6"/><circle cx="406.3" cy="151.1" r="1.2" fill="#4ee3a6"/><circle cx="381.5" cy="152.4" r="1.9" fill="#58b4e2"/><circle cx="389.1" cy="154.1" r="1.9" fill="#58b4e2"/><circle cx="404.8" cy="155.5" r="1.9" fill="#58b4e2"/><circle cx="419.6" cy="155.7" r="1.2" fill="#4ee3a6"/><circle cx="377.8" cy="155.8" r="1.2" fill="#4ee3a6"/><circle cx="375.0" cy="155.9" r="1.7" fill="#e03838"/><circle cx="375.5" cy="155.9" r="1.9" fill="#58b4e2"/><circle cx="412.1" cy="157.9" r="1.9" fill="#58b4e2"/><circle cx="417.8" cy="158.1" r="1.8" fill="#58b4e2"/><circle cx="393.3" cy="158.2" r="1.2" fill="#4ee3a6"/><circle cx="398.1" cy="158.4" r="1.9" fill="#58b4e2"/><circle cx="375.5" cy="158.6" r="1.8" fill="#e03838"/><circle cx="394.4" cy="158.9" r="1.8" fill="#e03838"/><circle cx="363.9" cy="159.0" r="1.9" fill="#58b4e2"/><circle cx="390.8" cy="159.2" r="1.9" fill="#e03838"/><circle cx="369.4" cy="159.3" r="1.2" fill="#4ee3a6"/><circle cx="371.9" cy="159.3" r="1.9" fill="#58b4e2"/><circle cx="419.3" cy="160.7" r="1.2" fill="#4ee3a6"/><circle cx="377.1" cy="161.0" r="1.9" fill="#58b4e2"/><circle cx="397.9" cy="161.1" r="1.2" fill="#4ee3a6"/><circle cx="371.4" cy="161.2" r="1.7" fill="#e03838"/><circle cx="395.1" cy="162.2" r="1.8" fill="#58b4e2"/><circle cx="384.7" cy="162.7" r="1.9" fill="#58b4e2"/><circle cx="420.9" cy="163.1" r="1.2" fill="#4ee3a6"/><circle cx="412.6" cy="163.1" r="1.9" fill="#e03838"/><circle cx="359.5" cy="163.4" r="1.9" fill="#58b4e2"/><circle cx="398.6" cy="163.7" r="1.9" fill="#58b4e2"/><circle cx="375.5" cy="164.0" r="1.9" fill="#e03838"/><circle cx="418.6" cy="165.0" r="1.8" fill="#58b4e2"/><circle cx="395.0" cy="165.2" r="1.2" fill="#4ee3a6"/><circle cx="392.7" cy="165.8" r="1.2" fill="#4ee3a6"/><circle cx="405.8" cy="166.0" r="1.9" fill="#58b4e2"/><circle cx="388.2" cy="166.1" r="1.7" fill="#e03838"/><circle cx="381.0" cy="166.2" r="1.2" fill="#4ee3a6"/><circle cx="419.4" cy="167.9" r="1.2" fill="#4ee3a6"/><circle cx="363.1" cy="168.1" r="1.9" fill="#58b4e2"/><circle cx="371.1" cy="168.4" r="1.9" fill="#58b4e2"/><circle cx="388.1" cy="168.9" r="1.2" fill="#4ee3a6"/><circle cx="359.8" cy="171.9" r="1.2" fill="#4ee3a6"/><circle cx="407.3" cy="172.0" r="1.2" fill="#4ee3a6"/><circle cx="374.0" cy="173.1" r="1.8" fill="#58b4e2"/><circle cx="377.0" cy="173.2" r="1.2" fill="#4ee3a6"/><circle cx="372.7" cy="175.8" r="1.2" fill="#4ee3a6"/>
<g transform="translate(0,0)"><path d="M501.4 32.7 C502.8 33.9 506.1 37.3 509.9 39.9 C513.7 42.5 519.9 45.6 524.2 48.4 C528.5 51.2 531.7 53.8 535.5 56.9 C539.3 60.0 543.6 64.8 546.9 66.9 C550.2 69.0 552.6 69.5 555.5 69.7 C558.4 69.9 560.7 69.7 564.0 68.3 C567.3 66.9 572.1 63.1 575.4 61.2 C578.7 59.3 580.2 58.6 584.0 56.9 C587.8 55.2 593.5 53.6 598.2 51.2 C602.9 48.8 606.7 46.0 612.4 42.7 C618.1 39.4 627.8 34.4 632.3 31.3 C636.8 28.2 638.2 25.4 639.4 24.2" transform="translate(0,1.8)" fill="none" stroke="#72c4d8" stroke-width="3" opacity="0.9"/><path d="M501.4 32.7 C502.8 30.1 512.3 26.6 518.5 24.2 C524.7 21.8 531.3 20.4 538.4 18.5 C545.5 16.6 555.0 14.4 561.2 12.8 C567.4 11.2 571.6 9.8 575.4 9.1 C579.2 8.4 579.2 8.1 584.0 8.5 C588.8 8.9 597.7 10.2 603.9 11.4 C610.1 12.6 616.3 14.3 621.0 15.7 C625.7 17.1 629.2 18.5 632.3 19.9 C635.4 21.3 639.4 22.3 639.4 24.2 C639.4 26.1 636.8 28.2 632.3 31.3 C627.8 34.4 618.1 39.4 612.4 42.7 C606.7 46.0 602.9 48.8 598.2 51.2 C593.5 53.6 587.8 55.2 584.0 56.9 C580.2 58.6 578.7 59.3 575.4 61.2 C572.1 63.1 567.3 66.9 564.0 68.3 C560.7 69.7 558.4 69.9 555.5 69.7 C552.6 69.5 550.2 69.0 546.9 66.9 C543.6 64.8 539.3 60.0 535.5 56.9 C531.7 53.8 528.5 51.2 524.2 48.4 C519.9 45.6 513.7 42.5 509.9 39.9 C506.1 37.3 500.0 35.3 501.4 32.7 Z" fill="url(#sheet)"/><path d="M501.4 32.7 C502.8 33.9 506.1 37.3 509.9 39.9 C513.7 42.5 519.9 45.6 524.2 48.4 C528.5 51.2 531.7 53.8 535.5 56.9 C539.3 60.0 543.6 64.8 546.9 66.9 C550.2 69.0 552.6 69.5 555.5 69.7 C558.4 69.9 560.7 69.7 564.0 68.3 C567.3 66.9 572.1 63.1 575.4 61.2 C578.7 59.3 580.2 58.6 584.0 56.9 C587.8 55.2 593.5 53.6 598.2 51.2 C602.9 48.8 606.7 46.0 612.4 42.7 C618.1 39.4 627.8 34.4 632.3 31.3 C636.8 28.2 638.2 25.4 639.4 24.2" fill="none" stroke="#c9f0f6" stroke-width="0.8" opacity="0.8"/><path d="M515 30 C530 26 545 30 560 24 C575 20 590 24 605 20 C615 18 625 20 632 22" fill="none" stroke="#b8eaf2" stroke-width="2.5" opacity="0.7"/><path d="M520 40 C535 38 548 42 562 36 C578 31 592 36 608 31" fill="none" stroke="#6cc4d6" stroke-width="2.5" opacity="0.6"/><path d="M530 50 C545 48 556 52 570 47 C582 43 592 45 600 42" fill="none" stroke="#a4e0ea" stroke-width="2" opacity="0.6"/></g>
<path d="M510 29.9 L527 22.8 L532.1 35.6 L514.2 42.7 Z" fill="#525252" stroke="#3a3a3a" stroke-width="0.4"/>
<line x1="510.7" y1="32.0" x2="527.9" y2="24.9" stroke="#6a6a6a" stroke-width="0.5" opacity="0.7"/>
<line x1="511.4" y1="34.2" x2="528.7" y2="27.1" stroke="#6a6a6a" stroke-width="0.5" opacity="0.7"/>
<line x1="512.1" y1="36.3" x2="529.5" y2="29.2" stroke="#6a6a6a" stroke-width="0.5" opacity="0.7"/>
<line x1="512.8" y1="38.4" x2="530.4" y2="31.3" stroke="#6a6a6a" stroke-width="0.5" opacity="0.7"/>
<line x1="513.5" y1="40.6" x2="531.2" y2="33.5" stroke="#6a6a6a" stroke-width="0.5" opacity="0.7"/>
<path d="M589.6 21.3 L609.6 22.8 L611.8 34.2 L591.9 32.7 Z" fill="#525252" stroke="#3a3a3a" stroke-width="0.4"/>
<line x1="590.0" y1="23.2" x2="610.0" y2="24.7" stroke="#6a6a6a" stroke-width="0.5" opacity="0.7"/>
<line x1="590.4" y1="25.1" x2="610.3" y2="26.6" stroke="#6a6a6a" stroke-width="0.5" opacity="0.7"/>
<line x1="590.8" y1="27.0" x2="610.7" y2="28.5" stroke="#6a6a6a" stroke-width="0.5" opacity="0.7"/>
<line x1="591.1" y1="28.9" x2="611.1" y2="30.4" stroke="#6a6a6a" stroke-width="0.5" opacity="0.7"/>
<line x1="591.5" y1="30.8" x2="611.4" y2="32.3" stroke="#6a6a6a" stroke-width="0.5" opacity="0.7"/>
<line x1="568.3" y1="32.1" x2="562.6" y2="35.1" stroke="#66c2e8" stroke-width="1.7"/><line x1="562.6" y1="35.1" x2="555.7" y2="33.4" stroke="#66c2e8" stroke-width="1.7"/><line x1="555.7" y1="33.4" x2="554.6" y2="28.6" stroke="#66c2e8" stroke-width="1.7"/><line x1="554.6" y1="28.6" x2="560.3" y2="25.6" stroke="#66c2e8" stroke-width="1.7"/><line x1="560.3" y1="25.6" x2="567.2" y2="27.3" stroke="#66c2e8" stroke-width="1.7"/><line x1="567.2" y1="27.3" x2="568.3" y2="32.1" stroke="#66c2e8" stroke-width="1.7"/><line x1="568.3" y1="32.1" x2="572.2" y2="33.6" stroke="#66c2e8" stroke-width="1.7"/><line x1="572.2" y1="33.6" x2="573.3" y2="36.2" stroke="#66c2e8" stroke-width="1.7"/><line x1="562.6" y1="35.1" x2="564.7" y2="39.2" stroke="#66c2e8" stroke-width="1.7"/><line x1="555.7" y1="33.4" x2="550.6" y2="34.1" stroke="#66c2e8" stroke-width="1.7"/><line x1="554.6" y1="28.6" x2="548.9" y2="26.3" stroke="#66c2e8" stroke-width="1.7"/><line x1="548.9" y1="26.3" x2="546.4" y2="28.1" stroke="#66c2e8" stroke-width="1.7"/><line x1="548.9" y1="26.3" x2="548.3" y2="23.4" stroke="#66c2e8" stroke-width="1.7"/><line x1="560.3" y1="25.6" x2="560.1" y2="21.5" stroke="#66c2e8" stroke-width="1.7"/><line x1="567.2" y1="27.3" x2="570.4" y2="24.8" stroke="#66c2e8" stroke-width="1.7"/><circle cx="560.1" cy="21.5" r="1.2" fill="#4ee3a6"/><circle cx="548.3" cy="23.4" r="1.2" fill="#4ee3a6"/><circle cx="570.4" cy="24.8" r="1.2" fill="#4ee3a6"/><circle cx="560.3" cy="25.6" r="1.9" fill="#58b4e2"/><circle cx="548.9" cy="26.3" r="1.8" fill="#58b4e2"/><circle cx="567.2" cy="27.3" r="1.9" fill="#58b4e2"/><circle cx="546.4" cy="28.1" r="1.2" fill="#4ee3a6"/><circle cx="554.6" cy="28.6" r="1.9" fill="#58b4e2"/><circle cx="568.3" cy="32.1" r="1.9" fill="#e03838"/><circle cx="555.7" cy="33.4" r="1.9" fill="#58b4e2"/><circle cx="572.2" cy="33.6" r="1.7" fill="#e03838"/><circle cx="550.6" cy="34.1" r="1.2" fill="#4ee3a6"/><circle cx="562.6" cy="35.1" r="1.9" fill="#58b4e2"/><circle cx="573.3" cy="36.2" r="1.2" fill="#4ee3a6"/><circle cx="564.7" cy="39.2" r="1.2" fill="#4ee3a6"/>
<line x1="522.3" y1="52.3" x2="519.4" y2="53.8" stroke="#66c2e8" stroke-width="1.7"/><line x1="519.4" y1="53.8" x2="516.0" y2="52.9" stroke="#66c2e8" stroke-width="1.7"/><line x1="516.0" y1="52.9" x2="515.5" y2="50.5" stroke="#66c2e8" stroke-width="1.7"/><line x1="515.5" y1="50.5" x2="518.5" y2="49.0" stroke="#66c2e8" stroke-width="1.7"/><line x1="518.5" y1="49.0" x2="521.9" y2="50.0" stroke="#66c2e8" stroke-width="1.7"/><line x1="521.9" y1="50.0" x2="522.3" y2="52.3" stroke="#66c2e8" stroke-width="1.7"/><line x1="522.3" y1="52.3" x2="527.3" y2="51.5" stroke="#66c2e8" stroke-width="1.7"/><line x1="519.4" y1="53.8" x2="519.1" y2="58.3" stroke="#66c2e8" stroke-width="1.7"/><line x1="519.1" y1="58.3" x2="521.5" y2="60.1" stroke="#66c2e8" stroke-width="1.7"/><line x1="519.1" y1="58.3" x2="516.5" y2="59.8" stroke="#66c2e8" stroke-width="1.7"/><line x1="516.0" y1="52.9" x2="513.0" y2="55.9" stroke="#66c2e8" stroke-width="1.7"/><line x1="513.0" y1="55.9" x2="510.2" y2="55.9" stroke="#66c2e8" stroke-width="1.7"/><line x1="518.5" y1="49.0" x2="519.1" y2="43.1" stroke="#66c2e8" stroke-width="1.7"/><line x1="519.1" y1="43.1" x2="521.4" y2="41.4" stroke="#66c2e8" stroke-width="1.7"/><line x1="521.9" y1="50.0" x2="527.4" y2="48.0" stroke="#66c2e8" stroke-width="1.7"/><circle cx="521.4" cy="41.4" r="1.2" fill="#4ee3a6"/><circle cx="519.1" cy="43.1" r="1.7" fill="#e03838"/><circle cx="527.4" cy="48.0" r="1.2" fill="#4ee3a6"/><circle cx="518.5" cy="49.0" r="1.9" fill="#58b4e2"/><circle cx="521.9" cy="50.0" r="1.9" fill="#58b4e2"/><circle cx="515.5" cy="50.5" r="1.9" fill="#58b4e2"/><circle cx="527.3" cy="51.5" r="1.2" fill="#4ee3a6"/><circle cx="522.3" cy="52.3" r="1.9" fill="#e03838"/><circle cx="516.0" cy="52.9" r="1.9" fill="#58b4e2"/><circle cx="519.4" cy="53.8" r="1.9" fill="#58b4e2"/><circle cx="510.2" cy="55.9" r="1.2" fill="#4ee3a6"/><circle cx="513.0" cy="55.9" r="1.7" fill="#e03838"/><circle cx="519.1" cy="58.3" r="1.8" fill="#58b4e2"/><circle cx="516.5" cy="59.8" r="1.2" fill="#4ee3a6"/><circle cx="521.5" cy="60.1" r="1.2" fill="#4ee3a6"/>
<line x1="632.3" y1="41.4" x2="628.4" y2="42.1" stroke="#66c2e8" stroke-width="1.7"/><line x1="628.4" y1="42.1" x2="625.6" y2="40.2" stroke="#66c2e8" stroke-width="1.7"/><line x1="625.6" y1="40.2" x2="626.7" y2="37.7" stroke="#66c2e8" stroke-width="1.7"/><line x1="626.7" y1="37.7" x2="630.6" y2="37.0" stroke="#66c2e8" stroke-width="1.7"/><line x1="630.6" y1="37.0" x2="633.4" y2="38.9" stroke="#66c2e8" stroke-width="1.7"/><line x1="633.4" y1="38.9" x2="632.3" y2="41.4" stroke="#66c2e8" stroke-width="1.7"/><line x1="628.4" y1="42.1" x2="625.4" y2="44.9" stroke="#66c2e8" stroke-width="1.7"/><line x1="625.4" y1="44.9" x2="625.9" y2="47.8" stroke="#66c2e8" stroke-width="1.7"/><line x1="625.4" y1="44.9" x2="622.5" y2="44.1" stroke="#66c2e8" stroke-width="1.7"/><line x1="626.7" y1="37.7" x2="624.3" y2="34.1" stroke="#66c2e8" stroke-width="1.7"/><line x1="624.3" y1="34.1" x2="621.3" y2="34.1" stroke="#66c2e8" stroke-width="1.7"/><line x1="624.3" y1="34.1" x2="625.5" y2="31.4" stroke="#66c2e8" stroke-width="1.7"/><line x1="630.6" y1="37.0" x2="632.9" y2="32.1" stroke="#66c2e8" stroke-width="1.7"/><line x1="632.9" y1="32.1" x2="635.6" y2="31.2" stroke="#66c2e8" stroke-width="1.7"/><line x1="633.4" y1="38.9" x2="639.2" y2="36.5" stroke="#66c2e8" stroke-width="1.7"/><circle cx="635.6" cy="31.2" r="1.2" fill="#4ee3a6"/><circle cx="625.5" cy="31.4" r="1.2" fill="#4ee3a6"/><circle cx="632.9" cy="32.1" r="1.7" fill="#e03838"/><circle cx="624.3" cy="34.1" r="1.8" fill="#58b4e2"/><circle cx="621.3" cy="34.1" r="1.2" fill="#4ee3a6"/><circle cx="639.2" cy="36.5" r="1.2" fill="#4ee3a6"/><circle cx="630.6" cy="37.0" r="1.9" fill="#58b4e2"/><circle cx="626.7" cy="37.7" r="1.9" fill="#58b4e2"/><circle cx="633.4" cy="38.9" r="1.9" fill="#58b4e2"/><circle cx="625.6" cy="40.2" r="1.9" fill="#58b4e2"/><circle cx="632.3" cy="41.4" r="1.9" fill="#e03838"/><circle cx="628.4" cy="42.1" r="1.9" fill="#58b4e2"/><circle cx="622.5" cy="44.1" r="1.2" fill="#4ee3a6"/><circle cx="625.4" cy="44.9" r="1.8" fill="#58b4e2"/><circle cx="625.9" cy="47.8" r="1.2" fill="#4ee3a6"/>
<path d="M601.6 45 L613 42.1 L611 59.8 L597.6 60.6 Z" fill="#525252" stroke="#3a3a3a" stroke-width="0.4"/>
<line x1="600.9" y1="47.6" x2="612.7" y2="45.0" stroke="#6a6a6a" stroke-width="0.5" opacity="0.7"/>
<line x1="600.3" y1="50.2" x2="612.3" y2="48.0" stroke="#6a6a6a" stroke-width="0.5" opacity="0.7"/>
<line x1="599.6" y1="52.8" x2="612.0" y2="51.0" stroke="#6a6a6a" stroke-width="0.5" opacity="0.7"/>
<line x1="598.9" y1="55.4" x2="611.7" y2="53.9" stroke="#6a6a6a" stroke-width="0.5" opacity="0.7"/>
<line x1="598.3" y1="58.0" x2="611.3" y2="56.8" stroke="#6a6a6a" stroke-width="0.5" opacity="0.7"/>
<path d="M609.6 54.1 C618 52 624 60 619.5 74" fill="none" stroke="#f0a030" stroke-width="2.2"/>
<g transform="translate(630,62) scale(0.8)"><path d="M0 6 C-5 4 -6 -2 -3 -6 C-2 -3 0 -3 0 -5 C1 -8 4 -9 3 -12 C7 -9 9 -4 7 0 C9 -1 9 -3 9 -4 C11 0 9 5 5 7 Z" fill="#f0701e"/><path d="M0 5 C-2 3 -2 0 0 -2 C1 0 2 0 2 -2 C4 0 5 3 3 5 Z" fill="#ffc040"/></g>
<g transform="translate(16,62)"><path d="M501.4 32.7 C502.8 33.9 506.1 37.3 509.9 39.9 C513.7 42.5 519.9 45.6 524.2 48.4 C528.5 51.2 531.7 53.8 535.5 56.9 C539.3 60.0 543.6 64.8 546.9 66.9 C550.2 69.0 552.6 69.5 555.5 69.7 C558.4 69.9 560.7 69.7 564.0 68.3 C567.3 66.9 572.1 63.1 575.4 61.2 C578.7 59.3 580.2 58.6 584.0 56.9 C587.8 55.2 593.5 53.6 598.2 51.2 C602.9 48.8 606.7 46.0 612.4 42.7 C618.1 39.4 627.8 34.4 632.3 31.3 C636.8 28.2 638.2 25.4 639.4 24.2" transform="translate(0,1.8)" fill="none" stroke="#72c4d8" stroke-width="3" opacity="0.9"/><path d="M501.4 32.7 C502.8 30.1 512.3 26.6 518.5 24.2 C524.7 21.8 531.3 20.4 538.4 18.5 C545.5 16.6 555.0 14.4 561.2 12.8 C567.4 11.2 571.6 9.8 575.4 9.1 C579.2 8.4 579.2 8.1 584.0 8.5 C588.8 8.9 597.7 10.2 603.9 11.4 C610.1 12.6 616.3 14.3 621.0 15.7 C625.7 17.1 629.2 18.5 632.3 19.9 C635.4 21.3 639.4 22.3 639.4 24.2 C639.4 26.1 636.8 28.2 632.3 31.3 C627.8 34.4 618.1 39.4 612.4 42.7 C606.7 46.0 602.9 48.8 598.2 51.2 C593.5 53.6 587.8 55.2 584.0 56.9 C580.2 58.6 578.7 59.3 575.4 61.2 C572.1 63.1 567.3 66.9 564.0 68.3 C560.7 69.7 558.4 69.9 555.5 69.7 C552.6 69.5 550.2 69.0 546.9 66.9 C543.6 64.8 539.3 60.0 535.5 56.9 C531.7 53.8 528.5 51.2 524.2 48.4 C519.9 45.6 513.7 42.5 509.9 39.9 C506.1 37.3 500.0 35.3 501.4 32.7 Z" fill="url(#sheet)"/><path d="M501.4 32.7 C502.8 33.9 506.1 37.3 509.9 39.9 C513.7 42.5 519.9 45.6 524.2 48.4 C528.5 51.2 531.7 53.8 535.5 56.9 C539.3 60.0 543.6 64.8 546.9 66.9 C550.2 69.0 552.6 69.5 555.5 69.7 C558.4 69.9 560.7 69.7 564.0 68.3 C567.3 66.9 572.1 63.1 575.4 61.2 C578.7 59.3 580.2 58.6 584.0 56.9 C587.8 55.2 593.5 53.6 598.2 51.2 C602.9 48.8 606.7 46.0 612.4 42.7 C618.1 39.4 627.8 34.4 632.3 31.3 C636.8 28.2 638.2 25.4 639.4 24.2" fill="none" stroke="#c9f0f6" stroke-width="0.8" opacity="0.8"/><path d="M515 30 C530 26 545 30 560 24 C575 20 590 24 605 20 C615 18 625 20 632 22" fill="none" stroke="#b8eaf2" stroke-width="2.5" opacity="0.7"/><path d="M520 40 C535 38 548 42 562 36 C578 31 592 36 608 31" fill="none" stroke="#6cc4d6" stroke-width="2.5" opacity="0.6"/><path d="M530 50 C545 48 556 52 570 47 C582 43 592 45 600 42" fill="none" stroke="#a4e0ea" stroke-width="2" opacity="0.6"/></g>
<path d="M555.5 93 L569 87 L578.2 100 L562 107 Z" fill="#525252" stroke="#3a3a3a" stroke-width="0.4"/>
<line x1="556.6" y1="95.3" x2="570.5" y2="89.2" stroke="#6a6a6a" stroke-width="0.5" opacity="0.7"/>
<line x1="557.7" y1="97.7" x2="572.1" y2="91.3" stroke="#6a6a6a" stroke-width="0.5" opacity="0.7"/>
<line x1="558.8" y1="100.0" x2="573.6" y2="93.5" stroke="#6a6a6a" stroke-width="0.5" opacity="0.7"/>
<line x1="559.8" y1="102.3" x2="575.1" y2="95.7" stroke="#6a6a6a" stroke-width="0.5" opacity="0.7"/>
<line x1="560.9" y1="104.7" x2="576.7" y2="97.8" stroke="#6a6a6a" stroke-width="0.5" opacity="0.7"/>
<path d="M578 82 L592 84 L599.6 101 L584 104 Z" fill="#525252" stroke="#3a3a3a" stroke-width="0.4"/>
<line x1="579.0" y1="85.7" x2="593.3" y2="86.8" stroke="#6a6a6a" stroke-width="0.5" opacity="0.7"/>
<line x1="580.0" y1="89.3" x2="594.5" y2="89.7" stroke="#6a6a6a" stroke-width="0.5" opacity="0.7"/>
<line x1="581.0" y1="93.0" x2="595.8" y2="92.5" stroke="#6a6a6a" stroke-width="0.5" opacity="0.7"/>
<line x1="582.0" y1="96.7" x2="597.1" y2="95.3" stroke="#6a6a6a" stroke-width="0.5" opacity="0.7"/>
<line x1="583.0" y1="100.3" x2="598.3" y2="98.2" stroke="#6a6a6a" stroke-width="0.5" opacity="0.7"/>
<path d="M601 79 L620 74.2 L625 85 L606 88.5 Z" fill="#525252" stroke="#3a3a3a" stroke-width="0.4"/>
<line x1="601.8" y1="80.6" x2="620.8" y2="76.0" stroke="#6a6a6a" stroke-width="0.5" opacity="0.7"/>
<line x1="602.7" y1="82.2" x2="621.7" y2="77.8" stroke="#6a6a6a" stroke-width="0.5" opacity="0.7"/>
<line x1="603.5" y1="83.8" x2="622.5" y2="79.6" stroke="#6a6a6a" stroke-width="0.5" opacity="0.7"/>
<line x1="604.3" y1="85.3" x2="623.3" y2="81.4" stroke="#6a6a6a" stroke-width="0.5" opacity="0.7"/>
<line x1="605.2" y1="86.9" x2="624.2" y2="83.2" stroke="#6a6a6a" stroke-width="0.5" opacity="0.7"/>
<line x1="520.1" y1="91.1" x2="515.4" y2="93.0" stroke="#66c2e8" stroke-width="1.7"/><line x1="515.4" y1="93.0" x2="510.5" y2="91.4" stroke="#66c2e8" stroke-width="1.7"/><line x1="510.5" y1="91.4" x2="510.3" y2="87.8" stroke="#66c2e8" stroke-width="1.7"/><line x1="510.3" y1="87.8" x2="515.0" y2="85.8" stroke="#66c2e8" stroke-width="1.7"/><line x1="515.0" y1="85.8" x2="519.8" y2="87.5" stroke="#66c2e8" stroke-width="1.7"/><line x1="519.8" y1="87.5" x2="520.1" y2="91.1" stroke="#66c2e8" stroke-width="1.7"/><line x1="520.1" y1="91.1" x2="525.6" y2="90.2" stroke="#66c2e8" stroke-width="1.7"/><line x1="525.6" y1="90.2" x2="526.8" y2="87.4" stroke="#66c2e8" stroke-width="1.7"/><line x1="525.6" y1="90.2" x2="527.7" y2="92.4" stroke="#66c2e8" stroke-width="1.7"/><line x1="515.4" y1="93.0" x2="516.5" y2="98.9" stroke="#66c2e8" stroke-width="1.7"/><line x1="516.5" y1="98.9" x2="514.9" y2="101.1" stroke="#66c2e8" stroke-width="1.7"/><line x1="510.5" y1="91.4" x2="505.5" y2="92.2" stroke="#66c2e8" stroke-width="1.7"/><line x1="505.5" y1="92.2" x2="504.3" y2="94.9" stroke="#66c2e8" stroke-width="1.7"/><line x1="505.5" y1="92.2" x2="503.5" y2="89.9" stroke="#66c2e8" stroke-width="1.7"/><line x1="510.3" y1="87.8" x2="504.9" y2="87.6" stroke="#66c2e8" stroke-width="1.7"/><line x1="515.0" y1="85.8" x2="516.3" y2="80.3" stroke="#66c2e8" stroke-width="1.7"/><line x1="519.8" y1="87.5" x2="524.0" y2="83.2" stroke="#66c2e8" stroke-width="1.7"/><line x1="541.2" y1="85.8" x2="537.6" y2="88.5" stroke="#66c2e8" stroke-width="1.7"/><line x1="537.6" y1="88.5" x2="532.1" y2="87.8" stroke="#66c2e8" stroke-width="1.7"/><line x1="532.1" y1="87.8" x2="530.4" y2="84.4" stroke="#66c2e8" stroke-width="1.7"/><line x1="530.4" y1="84.4" x2="534.0" y2="81.7" stroke="#66c2e8" stroke-width="1.7"/><line x1="534.0" y1="81.7" x2="539.4" y2="82.4" stroke="#66c2e8" stroke-width="1.7"/><line x1="539.4" y1="82.4" x2="541.2" y2="85.8" stroke="#66c2e8" stroke-width="1.7"/><line x1="541.2" y1="85.8" x2="547.6" y2="85.3" stroke="#66c2e8" stroke-width="1.7"/><line x1="547.6" y1="85.3" x2="549.0" y2="82.6" stroke="#66c2e8" stroke-width="1.7"/><line x1="547.6" y1="85.3" x2="549.4" y2="87.7" stroke="#66c2e8" stroke-width="1.7"/><line x1="537.6" y1="88.5" x2="539.1" y2="93.1" stroke="#66c2e8" stroke-width="1.7"/><line x1="530.4" y1="84.4" x2="524.8" y2="82.8" stroke="#66c2e8" stroke-width="1.7"/><line x1="539.4" y1="82.4" x2="543.3" y2="78.5" stroke="#66c2e8" stroke-width="1.7"/><line x1="543.3" y1="78.5" x2="546.1" y2="78.6" stroke="#66c2e8" stroke-width="1.7"/><line x1="520.1" y1="91.1" x2="525.2" y2="88.1" stroke="#66c2e8" stroke-width="1.7"/><line x1="525.2" y1="88.1" x2="530.4" y2="84.4" stroke="#66c2e8" stroke-width="1.7"/><circle cx="543.3" cy="78.5" r="1.7" fill="#e03838"/><circle cx="546.1" cy="78.6" r="1.2" fill="#4ee3a6"/><circle cx="516.3" cy="80.3" r="1.2" fill="#4ee3a6"/><circle cx="534.0" cy="81.7" r="1.9" fill="#58b4e2"/><circle cx="539.4" cy="82.4" r="1.9" fill="#58b4e2"/><circle cx="549.0" cy="82.6" r="1.2" fill="#4ee3a6"/><circle cx="524.8" cy="82.8" r="1.2" fill="#4ee3a6"/><circle cx="524.0" cy="83.2" r="1.2" fill="#4ee3a6"/><circle cx="530.4" cy="84.4" r="1.9" fill="#58b4e2"/><circle cx="547.6" cy="85.3" r="1.8" fill="#58b4e2"/><circle cx="541.2" cy="85.8" r="1.9" fill="#e03838"/><circle cx="515.0" cy="85.8" r="1.9" fill="#58b4e2"/><circle cx="526.8" cy="87.4" r="1.2" fill="#4ee3a6"/><circle cx="519.8" cy="87.5" r="1.9" fill="#58b4e2"/><circle cx="504.9" cy="87.6" r="1.2" fill="#4ee3a6"/><circle cx="549.4" cy="87.7" r="1.2" fill="#4ee3a6"/><circle cx="510.3" cy="87.8" r="1.9" fill="#58b4e2"/><circle cx="532.1" cy="87.8" r="1.9" fill="#58b4e2"/><circle cx="525.2" cy="88.1" r="1.8" fill="#e03838"/><circle cx="537.6" cy="88.5" r="1.9" fill="#58b4e2"/><circle cx="503.5" cy="89.9" r="1.2" fill="#4ee3a6"/><circle cx="525.6" cy="90.2" r="1.8" fill="#58b4e2"/><circle cx="520.1" cy="91.1" r="1.9" fill="#e03838"/><circle cx="510.5" cy="91.4" r="1.9" fill="#58b4e2"/><circle cx="505.5" cy="92.2" r="1.8" fill="#58b4e2"/><circle cx="527.7" cy="92.4" r="1.2" fill="#4ee3a6"/><circle cx="515.4" cy="93.0" r="1.9" fill="#58b4e2"/><circle cx="539.1" cy="93.1" r="1.2" fill="#4ee3a6"/><circle cx="504.3" cy="94.9" r="1.2" fill="#4ee3a6"/><circle cx="516.5" cy="98.9" r="1.7" fill="#e03838"/><circle cx="514.9" cy="101.1" r="1.2" fill="#4ee3a6"/>
<line x1="623.7" y1="111.2" x2="616.3" y2="113.2" stroke="#66c2e8" stroke-width="1.7"/><line x1="616.3" y1="113.2" x2="609.9" y2="110.0" stroke="#66c2e8" stroke-width="1.7"/><line x1="609.9" y1="110.0" x2="610.9" y2="104.8" stroke="#66c2e8" stroke-width="1.7"/><line x1="610.9" y1="104.8" x2="618.3" y2="102.8" stroke="#66c2e8" stroke-width="1.7"/><line x1="618.3" y1="102.8" x2="624.7" y2="106.0" stroke="#66c2e8" stroke-width="1.7"/><line x1="624.7" y1="106.0" x2="623.7" y2="111.2" stroke="#66c2e8" stroke-width="1.7"/><line x1="623.7" y1="111.2" x2="628.0" y2="113.5" stroke="#66c2e8" stroke-width="1.7"/><line x1="628.0" y1="113.5" x2="628.8" y2="116.2" stroke="#66c2e8" stroke-width="1.7"/><line x1="616.3" y1="113.2" x2="617.6" y2="118.1" stroke="#66c2e8" stroke-width="1.7"/><line x1="617.6" y1="118.1" x2="616.2" y2="120.5" stroke="#66c2e8" stroke-width="1.7"/><line x1="609.9" y1="110.0" x2="604.2" y2="112.1" stroke="#66c2e8" stroke-width="1.7"/><line x1="604.2" y1="112.1" x2="601.6" y2="110.8" stroke="#66c2e8" stroke-width="1.7"/><line x1="610.9" y1="104.8" x2="605.6" y2="101.3" stroke="#66c2e8" stroke-width="1.7"/><line x1="605.6" y1="101.3" x2="602.8" y2="102.5" stroke="#66c2e8" stroke-width="1.7"/><line x1="605.6" y1="101.3" x2="605.6" y2="98.3" stroke="#66c2e8" stroke-width="1.7"/><line x1="618.3" y1="102.8" x2="620.9" y2="99.6" stroke="#66c2e8" stroke-width="1.7"/><line x1="624.7" y1="106.0" x2="628.2" y2="103.5" stroke="#66c2e8" stroke-width="1.7"/><line x1="628.2" y1="103.5" x2="631.0" y2="104.0" stroke="#66c2e8" stroke-width="1.7"/><circle cx="605.6" cy="98.3" r="1.2" fill="#4ee3a6"/><circle cx="620.9" cy="99.6" r="1.2" fill="#4ee3a6"/><circle cx="605.6" cy="101.3" r="1.8" fill="#58b4e2"/><circle cx="602.8" cy="102.5" r="1.2" fill="#4ee3a6"/><circle cx="618.3" cy="102.8" r="1.9" fill="#58b4e2"/><circle cx="628.2" cy="103.5" r="1.7" fill="#e03838"/><circle cx="631.0" cy="104.0" r="1.2" fill="#4ee3a6"/><circle cx="610.9" cy="104.8" r="1.9" fill="#58b4e2"/><circle cx="624.7" cy="106.0" r="1.9" fill="#58b4e2"/><circle cx="609.9" cy="110.0" r="1.9" fill="#58b4e2"/><circle cx="601.6" cy="110.8" r="1.2" fill="#4ee3a6"/><circle cx="623.7" cy="111.2" r="1.9" fill="#e03838"/><circle cx="604.2" cy="112.1" r="1.7" fill="#e03838"/><circle cx="616.3" cy="113.2" r="1.9" fill="#58b4e2"/><circle cx="628.0" cy="113.5" r="1.7" fill="#e03838"/><circle cx="628.8" cy="116.2" r="1.2" fill="#4ee3a6"/><circle cx="617.6" cy="118.1" r="1.7" fill="#e03838"/><circle cx="616.2" cy="120.5" r="1.2" fill="#4ee3a6"/>
<path d="M569.7 92.7 L586 92.7" stroke="#f0a030" stroke-width="2.5"/><path d="M585 89 L590 92.7 L585 96.4 Z" fill="#f0a030"/>
<g transform="translate(582,85) scale(0.9)"><path d="M0 6 C-5 4 -6 -2 -3 -6 C-2 -3 0 -3 0 -5 C1 -8 4 -9 3 -12 C7 -9 9 -4 7 0 C9 -1 9 -3 9 -4 C11 0 9 5 5 7 Z" fill="#f0701e"/><path d="M0 5 C-2 3 -2 0 0 -2 C1 0 2 0 2 -2 C4 0 5 3 3 5 Z" fill="#ffc040"/></g>
<path d="M537 116 L548 111 L556.9 125 L545 129.7 Z" fill="#525252" stroke="#3a3a3a" stroke-width="0.4"/>
<line x1="538.3" y1="118.3" x2="549.5" y2="113.3" stroke="#6a6a6a" stroke-width="0.5" opacity="0.7"/>
<line x1="539.7" y1="120.6" x2="551.0" y2="115.7" stroke="#6a6a6a" stroke-width="0.5" opacity="0.7"/>
<line x1="541.0" y1="122.8" x2="552.5" y2="118.0" stroke="#6a6a6a" stroke-width="0.5" opacity="0.7"/>
<line x1="542.3" y1="125.1" x2="553.9" y2="120.3" stroke="#6a6a6a" stroke-width="0.5" opacity="0.7"/>
<line x1="543.7" y1="127.4" x2="555.4" y2="122.7" stroke="#6a6a6a" stroke-width="0.5" opacity="0.7"/>
<g transform="translate(16,121)"><path d="M501.4 32.7 C502.8 33.9 506.1 37.3 509.9 39.9 C513.7 42.5 519.9 45.6 524.2 48.4 C528.5 51.2 531.7 53.8 535.5 56.9 C539.3 60.0 543.6 64.8 546.9 66.9 C550.2 69.0 552.6 69.5 555.5 69.7 C558.4 69.9 560.7 69.7 564.0 68.3 C567.3 66.9 572.1 63.1 575.4 61.2 C578.7 59.3 580.2 58.6 584.0 56.9 C587.8 55.2 593.5 53.6 598.2 51.2 C602.9 48.8 606.7 46.0 612.4 42.7 C618.1 39.4 627.8 34.4 632.3 31.3 C636.8 28.2 638.2 25.4 639.4 24.2" transform="translate(0,1.8)" fill="none" stroke="#72c4d8" stroke-width="3" opacity="0.9"/><path d="M501.4 32.7 C502.8 30.1 512.3 26.6 518.5 24.2 C524.7 21.8 531.3 20.4 538.4 18.5 C545.5 16.6 555.0 14.4 561.2 12.8 C567.4 11.2 571.6 9.8 575.4 9.1 C579.2 8.4 579.2 8.1 584.0 8.5 C588.8 8.9 597.7 10.2 603.9 11.4 C610.1 12.6 616.3 14.3 621.0 15.7 C625.7 17.1 629.2 18.5 632.3 19.9 C635.4 21.3 639.4 22.3 639.4 24.2 C639.4 26.1 636.8 28.2 632.3 31.3 C627.8 34.4 618.1 39.4 612.4 42.7 C606.7 46.0 602.9 48.8 598.2 51.2 C593.5 53.6 587.8 55.2 584.0 56.9 C580.2 58.6 578.7 59.3 575.4 61.2 C572.1 63.1 567.3 66.9 564.0 68.3 C560.7 69.7 558.4 69.9 555.5 69.7 C552.6 69.5 550.2 69.0 546.9 66.9 C543.6 64.8 539.3 60.0 535.5 56.9 C531.7 53.8 528.5 51.2 524.2 48.4 C519.9 45.6 513.7 42.5 509.9 39.9 C506.1 37.3 500.0 35.3 501.4 32.7 Z" fill="url(#sheet)"/><path d="M501.4 32.7 C502.8 33.9 506.1 37.3 509.9 39.9 C513.7 42.5 519.9 45.6 524.2 48.4 C528.5 51.2 531.7 53.8 535.5 56.9 C539.3 60.0 543.6 64.8 546.9 66.9 C550.2 69.0 552.6 69.5 555.5 69.7 C558.4 69.9 560.7 69.7 564.0 68.3 C567.3 66.9 572.1 63.1 575.4 61.2 C578.7 59.3 580.2 58.6 584.0 56.9 C587.8 55.2 593.5 53.6 598.2 51.2 C602.9 48.8 606.7 46.0 612.4 42.7 C618.1 39.4 627.8 34.4 632.3 31.3 C636.8 28.2 638.2 25.4 639.4 24.2" fill="none" stroke="#c9f0f6" stroke-width="0.8" opacity="0.8"/><path d="M515 30 C530 26 545 30 560 24 C575 20 590 24 605 20 C615 18 625 20 632 22" fill="none" stroke="#b8eaf2" stroke-width="2.5" opacity="0.7"/><path d="M520 40 C535 38 548 42 562 36 C578 31 592 36 608 31" fill="none" stroke="#6cc4d6" stroke-width="2.5" opacity="0.6"/><path d="M530 50 C545 48 556 52 570 47 C582 43 592 45 600 42" fill="none" stroke="#a4e0ea" stroke-width="2" opacity="0.6"/></g>
<path d="M541 150 L556 142 L563 156 L548 163 Z" fill="#525252" stroke="#3a3a3a" stroke-width="0.4"/>
<line x1="542.2" y1="152.2" x2="557.2" y2="144.3" stroke="#6a6a6a" stroke-width="0.5" opacity="0.7"/>
<line x1="543.3" y1="154.3" x2="558.3" y2="146.7" stroke="#6a6a6a" stroke-width="0.5" opacity="0.7"/>
<line x1="544.5" y1="156.5" x2="559.5" y2="149.0" stroke="#6a6a6a" stroke-width="0.5" opacity="0.7"/>
<line x1="545.7" y1="158.7" x2="560.7" y2="151.3" stroke="#6a6a6a" stroke-width="0.5" opacity="0.7"/>
<line x1="546.8" y1="160.8" x2="561.8" y2="153.7" stroke="#6a6a6a" stroke-width="0.5" opacity="0.7"/>
<path d="M552 160 L566 153 L574 167 L560 171 Z" fill="#525252" stroke="#3a3a3a" stroke-width="0.4"/>
<line x1="553.3" y1="161.8" x2="567.3" y2="155.3" stroke="#6a6a6a" stroke-width="0.5" opacity="0.7"/>
<line x1="554.7" y1="163.7" x2="568.7" y2="157.7" stroke="#6a6a6a" stroke-width="0.5" opacity="0.7"/>
<line x1="556.0" y1="165.5" x2="570.0" y2="160.0" stroke="#6a6a6a" stroke-width="0.5" opacity="0.7"/>
<line x1="557.3" y1="167.3" x2="571.3" y2="162.3" stroke="#6a6a6a" stroke-width="0.5" opacity="0.7"/>
<line x1="558.7" y1="169.2" x2="572.7" y2="164.7" stroke="#6a6a6a" stroke-width="0.5" opacity="0.7"/>
<line x1="599.0" y1="168.0" x2="595.9" y2="170.7" stroke="#66c2e8" stroke-width="1.7"/><line x1="595.9" y1="170.7" x2="590.8" y2="170.3" stroke="#66c2e8" stroke-width="1.7"/><line x1="590.8" y1="170.3" x2="588.8" y2="167.2" stroke="#66c2e8" stroke-width="1.7"/><line x1="588.8" y1="167.2" x2="591.9" y2="164.5" stroke="#66c2e8" stroke-width="1.7"/><line x1="591.9" y1="164.5" x2="597.0" y2="164.9" stroke="#66c2e8" stroke-width="1.7"/><line x1="597.0" y1="164.9" x2="599.0" y2="168.0" stroke="#66c2e8" stroke-width="1.7"/><line x1="599.0" y1="168.0" x2="603.4" y2="166.5" stroke="#66c2e8" stroke-width="1.7"/><line x1="595.9" y1="170.7" x2="598.0" y2="175.4" stroke="#66c2e8" stroke-width="1.7"/><line x1="598.0" y1="175.4" x2="601.0" y2="175.8" stroke="#66c2e8" stroke-width="1.7"/><line x1="598.0" y1="175.4" x2="596.4" y2="177.9" stroke="#66c2e8" stroke-width="1.7"/><line x1="590.8" y1="170.3" x2="587.6" y2="175.4" stroke="#66c2e8" stroke-width="1.7"/><line x1="587.6" y1="175.4" x2="584.9" y2="176.0" stroke="#66c2e8" stroke-width="1.7"/><line x1="588.8" y1="167.2" x2="584.5" y2="169.0" stroke="#66c2e8" stroke-width="1.7"/><line x1="584.5" y1="169.0" x2="584.0" y2="171.9" stroke="#66c2e8" stroke-width="1.7"/><line x1="584.5" y1="169.0" x2="582.0" y2="167.3" stroke="#66c2e8" stroke-width="1.7"/><line x1="597.0" y1="164.9" x2="599.2" y2="160.8" stroke="#66c2e8" stroke-width="1.7"/><circle cx="599.2" cy="160.8" r="1.2" fill="#4ee3a6"/><circle cx="591.9" cy="164.5" r="1.9" fill="#58b4e2"/><circle cx="597.0" cy="164.9" r="1.9" fill="#58b4e2"/><circle cx="603.4" cy="166.5" r="1.2" fill="#4ee3a6"/><circle cx="588.8" cy="167.2" r="1.9" fill="#58b4e2"/><circle cx="582.0" cy="167.3" r="1.2" fill="#4ee3a6"/><circle cx="599.0" cy="168.0" r="1.9" fill="#e03838"/><circle cx="584.5" cy="169.0" r="1.8" fill="#58b4e2"/><circle cx="590.8" cy="170.3" r="1.9" fill="#58b4e2"/><circle cx="595.9" cy="170.7" r="1.9" fill="#58b4e2"/><circle cx="584.0" cy="171.9" r="1.2" fill="#4ee3a6"/><circle cx="598.0" cy="175.4" r="1.8" fill="#58b4e2"/><circle cx="587.6" cy="175.4" r="1.7" fill="#e03838"/><circle cx="601.0" cy="175.8" r="1.2" fill="#4ee3a6"/><circle cx="584.9" cy="176.0" r="1.2" fill="#4ee3a6"/><circle cx="596.4" cy="177.9" r="1.2" fill="#4ee3a6"/>
<path d="M547 126 C538 130 538 140 551 147" fill="none" stroke="#f0a030" stroke-width="2.2"/>
<g transform="translate(533,130) scale(0.8)"><path d="M0 6 C-5 4 -6 -2 -3 -6 C-2 -3 0 -3 0 -5 C1 -8 4 -9 3 -12 C7 -9 9 -4 7 0 C9 -1 9 -3 9 -4 C11 0 9 5 5 7 Z" fill="#f0701e"/><path d="M0 5 C-2 3 -2 0 0 -2 C1 0 2 0 2 -2 C4 0 5 3 3 5 Z" fill="#ffc040"/></g>
<g transform="translate(556,150) scale(0.8)"><path d="M0 6 C-5 4 -6 -2 -3 -6 C-2 -3 0 -3 0 -5 C1 -8 4 -9 3 -12 C7 -9 9 -4 7 0 C9 -1 9 -3 9 -4 C11 0 9 5 5 7 Z" fill="#f0701e"/><path d="M0 5 C-2 3 -2 0 0 -2 C1 0 2 0 2 -2 C4 0 5 3 3 5 Z" fill="#ffc040"/></g>
<g transform="translate(487,170) scale(1.3)"><path d="M0 6 C-5 4 -6 -2 -3 -6 C-2 -3 0 -3 0 -5 C1 -8 4 -9 3 -12 C7 -9 9 -4 7 0 C9 -1 9 -3 9 -4 C11 0 9 5 5 7 Z" fill="#f0701e"/><path d="M0 5 C-2 3 -2 0 0 -2 C1 0 2 0 2 -2 C4 0 5 3 3 5 Z" fill="#ffc040"/></g>
<text x="479.4" y="189.9" font-size="12.6" font-weight="bold" text-anchor="start" fill="#e2742a" >Electron</text>
<text x="310.0" y="19.0" font-size="20" font-weight="bold" text-anchor="start" fill="#111" >b</text>
<path d="M29.4 50.9 C33 40 40 26 49.8 15.8 C46 24 41 32 37 40 C34 45 31 49 29.4 50.9 Z" fill="#d0def8" opacity="0.9"/>
<path d="M29.4 50.9 C33 40 40 26 49.8 15.8" fill="none" stroke="#8aa4ea" stroke-width="0.8"/>
<path d="M43 34.5 C44 27 46 21 49.4 15.4 C56 14 62 16 66 19 C72 22 80 27 88 30 C94 32 100 34 103.8 34.8 L105.3 58.2 C92 54 78 49 67.3 44.3 C60 41 52 37 43 34.5 Z" fill="url(#flex)"/>
<path d="M49.4 15.4 C56 14 62 16 66 19 C72 22 80 27 88 30 C94 32 100 34 103.8 34.8" fill="none" stroke="#5a5ee0" stroke-width="1"/>
<path d="M67.3 44.3 C78 49 92 54 105.3 58.2" fill="none" stroke="#2e2e36" stroke-width="1.5"/>
<ellipse cx="58.9" cy="26.2" rx="10.5" ry="8.6" transform="rotate(20 58.9 26.2)" fill="#4a4748"/>
<ellipse cx="49.6" cy="19.4" rx="2.6" ry="2" fill="#4a4748"/><ellipse cx="45" cy="28.2" rx="2.8" ry="1.8" transform="rotate(-20 45 28.2)" fill="#4a4748"/>
<path d="M66 21.5 L69.9 23.4 L80.5 30.2 L79.8 43.1 L67.6 37.1 L63 33 Z" fill="#4a4748"/>
<ellipse cx="59.3" cy="21.6" rx="1.2" ry="0.7" fill="#e6e6ee"/><ellipse cx="57" cy="27.2" rx="1.2" ry="0.7" fill="#e6e6ee"/>
<path d="M68 38 C80 43 92 48 103.8 52" fill="none" stroke="#8a4a2a" stroke-width="0.8"/>
<path d="M80.5 30.5 C90 32 98 34 103.8 35.5" fill="none" stroke="#8a4a2a" stroke-width="0.7"/>
<path d="M103.8 36 L114.3 35.5 M105.3 53 L122.1 52.8" stroke="#a8643c" stroke-width="1.1"/>
<path d="M63.8 90.3 L122 80 L231.5 119.6 L189.7 153.8 Z" fill="url(#strip)"/>
<path d="M63.8 90.3 L77 97 L189.7 153.8" fill="none" stroke="#b5d8f0" stroke-width="1.2"/>
<path d="M70 93 L192 150 L200 143 L160 121 Z" fill="#e6f3fc" opacity="0.7"/>
<path d="M63.8 90.3 L122 80" fill="none" stroke="#c0def4" stroke-width="1"/>
<path d="M201 111 L228 121 L222 125 L205 128 Z" fill="#b4c4ee" opacity="0.8"/>
<path d="M189.7 153.8 L231.5 119.6" stroke="#33363c" stroke-width="1.7"/>
<g fill="#44484e"><ellipse cx="127.5" cy="101.5" rx="20.5" ry="11" transform="rotate(-8 127.5 101.5)"/><ellipse cx="103" cy="96.6" rx="5" ry="3.6" transform="rotate(-10 103 96.6)"/><ellipse cx="109" cy="99" rx="5" ry="3.4" transform="rotate(10 109 99)"/><ellipse cx="127.5" cy="89" rx="4.6" ry="3.8"/><path d="M146 94 L179.5 105.5 L149 120.5 L132 110.5 Z"/></g>
<ellipse cx="119" cy="104" rx="1.8" ry="1" fill="#cfd4da"/><ellipse cx="135" cy="97" rx="1.8" ry="1" fill="#cfd4da"/><ellipse cx="140" cy="100" rx="0.8" ry="0.6" fill="#cfd4da"/>
<path d="M154.6 98.7 C160 99 166 99.5 172.6 100.6 L199.2 107.3 L231.5 119.6 L259 130.5" fill="none" stroke="#a0522d" stroke-width="1.3"/>
<path d="M133.7 110.1 C132.5 111.5 132.8 113 134 114.5 C136 116.5 138 117.5 140.4 118.7 L167 130 L201 143.3 L222 156" fill="none" stroke="#a0522d" stroke-width="1.3"/>
<path d="M62.3 79 L107.6 65.3 L133 68.5 L124 78.5 C110 80 95 83 78 86.5 Z" fill="#d3eaf9"/>
<path d="M62.3 79 L107.6 65.3" stroke="#bcdcf4" stroke-width="1"/>
<path d="M66 80.5 L108 68.5 L128 70.5" fill="none" stroke="#e8f6fd" stroke-width="1.5"/>
<path d="M124 78.5 L133 68.5 C138 66 150 60 162 50 C170 44 180 32 194.6 21.1 L244.2 12.3 C236 22 228 31 218.5 39.2 C205 50 185 58 166 64 C150 70 138 75 128 77.5 Z" fill="url(#flap2)"/>
<path d="M78 86.5 C95 83 110 80 124 78.5 C138 75 150 70 166 64" fill="none" stroke="#ffffff" stroke-width="1.4"/>
<path d="M194.6 21.1 L244.2 12.3" stroke="#3a3c40" stroke-width="3.6"/>
<path d="M194.6 21.5 L171.8 40.7" stroke="#7ecbf0" stroke-width="1.8"/>
<path d="M62.3 78 L107.6 65.3" stroke="#b7d8f2" stroke-width="0.8"/>
<line x1="173" y1="56.9" x2="203.7" y2="57.3" stroke="#e05068" stroke-width="1.4"/>
<path d="M210.2 57.4 L203.7 60.5 L203.7 54.1 Z" fill="#e05068"/>
<line x1="177.4" y1="112" x2="208.9" y2="79.7" stroke="#e05068" stroke-width="1.4"/>
<path d="M213.4 75 L211.2 81.9 L206.6 77.4 Z" fill="#e05068"/>
<line x1="128.7" y1="99.8" x2="101.8" y2="127.3" stroke="#e05068" stroke-width="1.4"/>
<path d="M97.3 131.9 L99.6 125.0 L104.1 129.5 Z" fill="#e05068"/>
<line x1="253.1" y1="126.7" x2="237.9" y2="151.6" stroke="#e05068" stroke-width="1.4"/>
<path d="M234.5 157.1 L235.2 149.9 L240.6 153.2 Z" fill="#e05068"/>
<line x1="195" y1="146.6" x2="216.9" y2="155.1" stroke="#e05068" stroke-width="1.4"/>
<path d="M223 157.5 L215.8 158.1 L218.1 152.2 Z" fill="#e05068"/>
<text x="68.7" y="12.9" font-size="13.1" font-weight="bold" text-anchor="start" fill="#111" >Flexible thermal sensor</text>
<text x="213.5" y="70.5" font-size="13.1" font-weight="bold" text-anchor="start" fill="#111" >PDMS</text>
<text x="34.8" y="144.3" font-size="13.1" font-weight="bold" text-anchor="start" fill="#111" >PVA/CNF/Mxene</text>
<text x="33.9" y="159.2" font-size="13.1" font-weight="bold" text-anchor="start" fill="#111" >/Fe(II) composite</text>
<text x="188.2" y="169.0" font-size="13.1" font-weight="bold" text-anchor="start" fill="#111" >Copper wires</text>
<text x="7.6" y="16.6" font-size="20" font-weight="bold" text-anchor="start" fill="#111" >a</text></svg></body></html>
